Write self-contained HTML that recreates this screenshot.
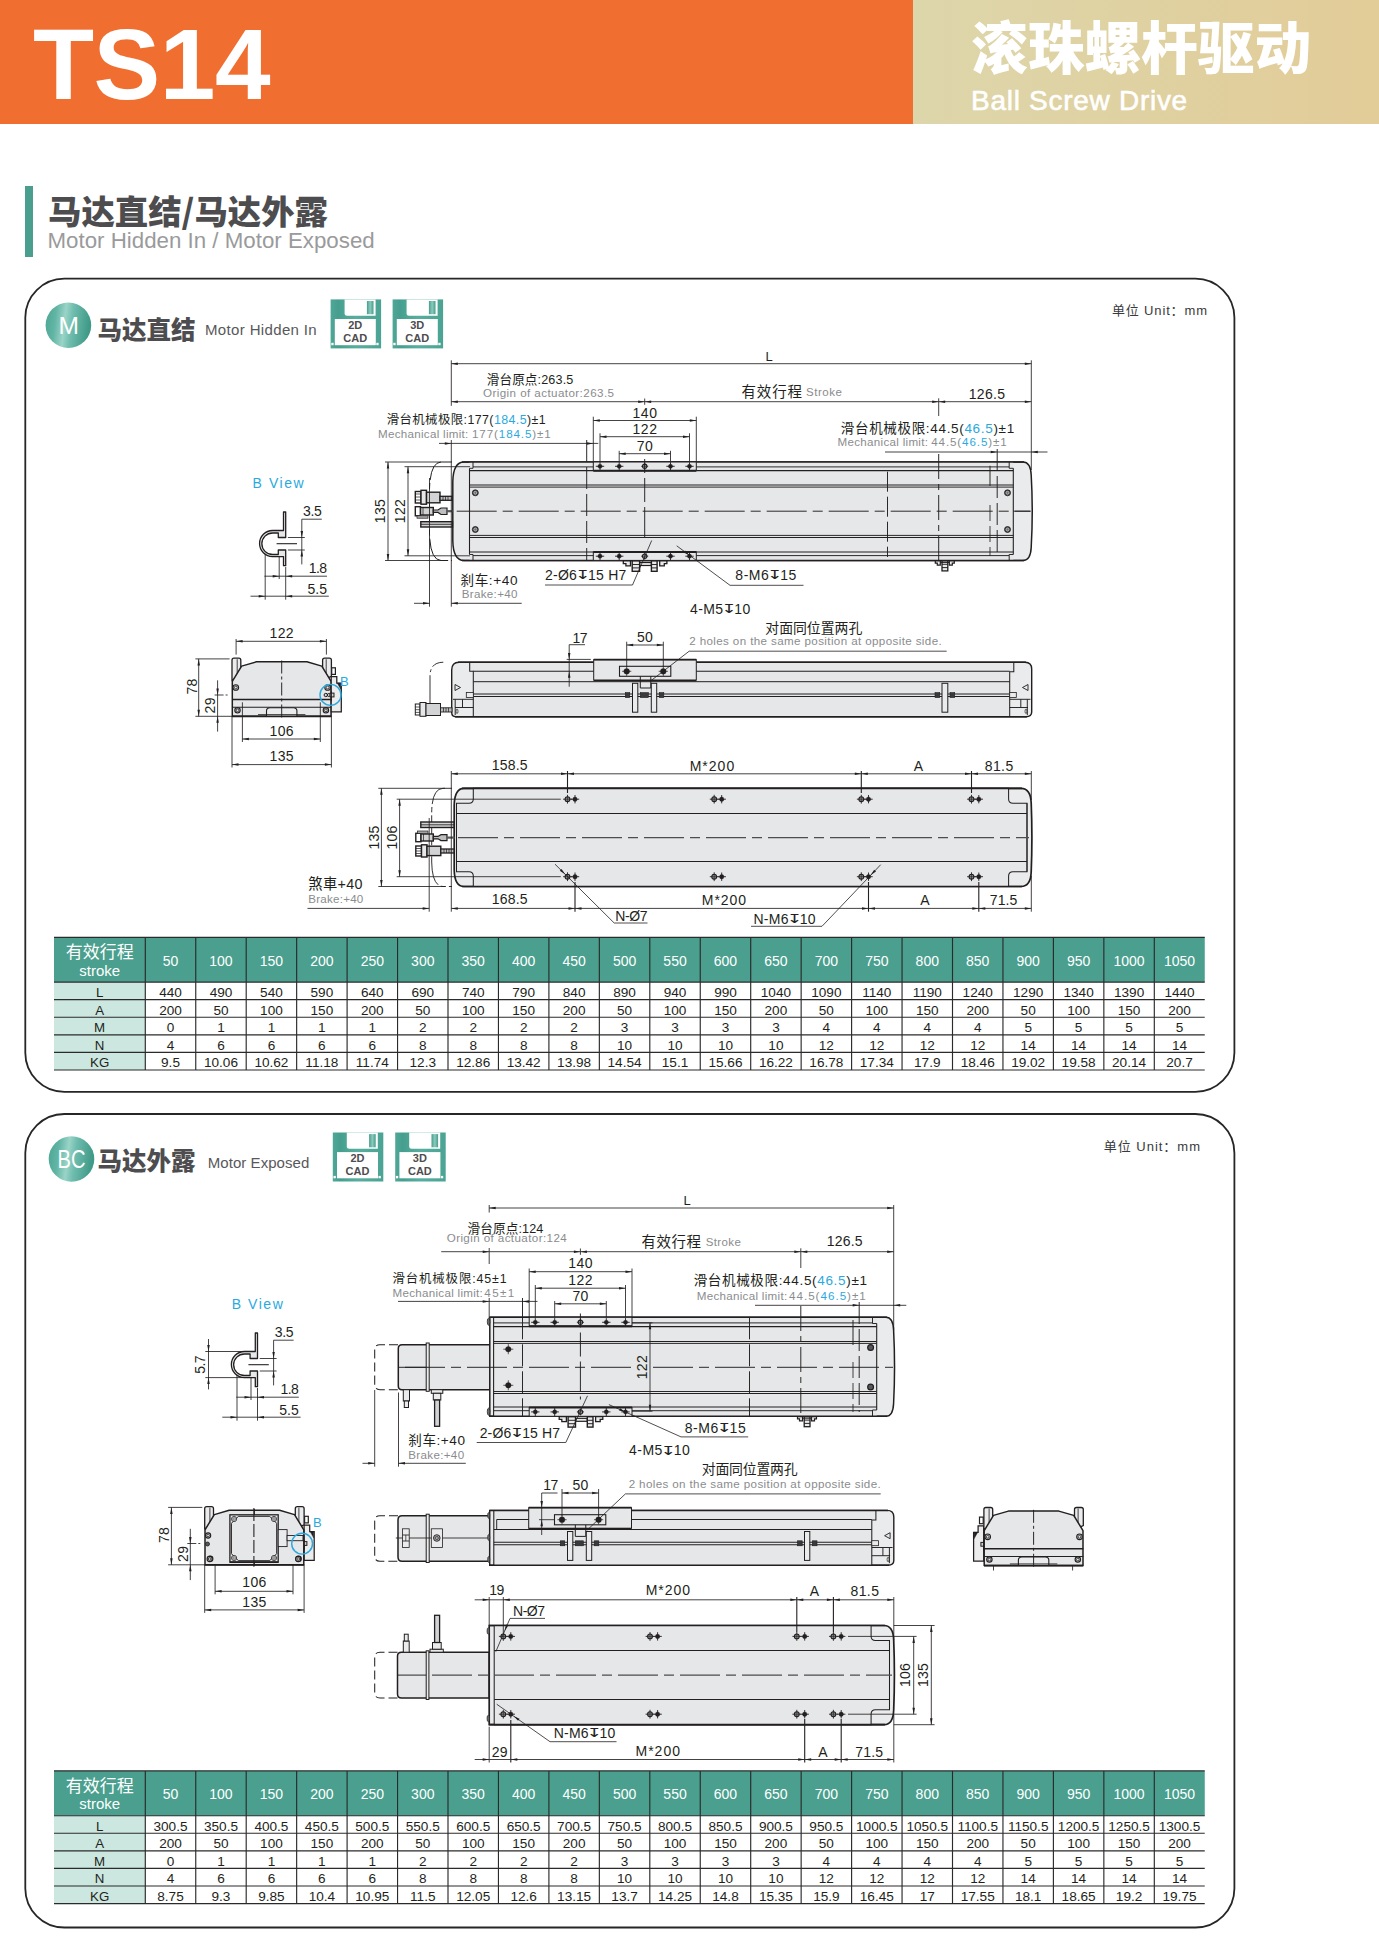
<!DOCTYPE html>
<html lang="zh"><head><meta charset="utf-8"><title>TS14</title><style>
html,body{margin:0;padding:0}
body{width:1379px;height:1948px;position:relative;background:#fff;overflow:hidden;font-family:"Liberation Sans","Noto Sans CJK SC",sans-serif;color:#231f20}
.abs{position:absolute}
#hdr{left:0;top:0;width:913px;height:124px;background:#f06e30}
#hdr2{left:913px;top:0;width:466px;height:124px;background:linear-gradient(90deg,#ddd6ab 0%,#e0d09f 60%,#e2cc98 100%)}
#ts{left:33px;top:7px;font-size:100px;font-weight:bold;color:#fff;line-height:115px;letter-spacing:-0.5px;white-space:nowrap}
#cn{left:971px;top:9px;font-size:56.7px;font-weight:900;color:#fff;line-height:70px;white-space:nowrap;font-family:"Noto Sans CJK SC",sans-serif}
#en{left:971px;top:84px;font-size:28px;letter-spacing:0.72px;-webkit-text-stroke:0.6px #fff;color:#fff;line-height:34px;white-space:nowrap}
#bar{left:25px;top:186px;width:8px;height:71px;background:#4a9e8e}
#t1{left:48px;top:187.5px;font-size:33.4px;font-weight:900;color:#4d4d4f;line-height:44px;white-space:nowrap;font-family:"Noto Sans CJK SC",sans-serif}
#t2{left:47.5px;top:229px;font-size:22.3px;color:#9a9a9c;line-height:24px;white-space:nowrap}
.panel{left:25px;width:1207px;border:1.9px solid #2a2a2a;border-radius:42px;box-sizing:content-box}
table.t{position:absolute;border-collapse:collapse;table-layout:fixed;font-size:14px;color:#231f20}
table.t td{border:1.3px solid #333;text-align:center;padding:0;height:16.3px;line-height:16px;overflow:visible;white-space:nowrap}
table.t tr.h td{background:#4a9f8e;color:#fff;height:44px;font-size:14px}
table.t td.f{background:#cbe7df;border-left:none}
table.t tr.h td.f{background:#4a9f8e;font-size:17px;line-height:19px;border-left:none}
table.t tr.h td{border-top:none}
table.t td:last-child{border-right:none}
</style></head><body>
<div class="abs" id="hdr"></div><div class="abs" id="hdr2"></div>
<div class="abs" id="ts">TS14</div>
<div class="abs" id="cn">滚珠螺杆驱动</div>
<div class="abs" id="en">Ball Screw Drive</div>
<div class="abs" id="bar"></div>
<div class="abs" id="t1">马达直结/马达外露</div>
<div class="abs" id="t2">Motor Hidden In / Motor Exposed</div>
<svg class="abs" style="left:0;top:0" width="1379" height="1948" viewBox="0 0 1379 1948">
<g font-family="Liberation Sans,Noto Sans CJK SC,sans-serif" stroke-linecap="butt">
<rect x="25.3" y="278.6" width="1209.1" height="813.2" rx="39" ry="39" fill="none" stroke="#262626" stroke-width="1.8"/>
<rect x="25.3" y="1114" width="1209.1" height="813.5" rx="39" ry="39" fill="none" stroke="#262626" stroke-width="1.8"/>
<defs>
<linearGradient id="gc" x1="0" y1="0" x2="1" y2="0.12"><stop offset="0" stop-color="#4ba593"/><stop offset="0.25" stop-color="#62b5a5"/><stop offset="0.46" stop-color="#9ad4c8"/><stop offset="0.62" stop-color="#6fbdae"/><stop offset="1" stop-color="#3f9a88"/></linearGradient>
<linearGradient id="gi" x1="0" y1="0" x2="1" y2="0"><stop offset="0" stop-color="#4fa897"/><stop offset="0.15" stop-color="#469f8e"/><stop offset="0.5" stop-color="#58ae9e"/><stop offset="1" stop-color="#4aa393"/></linearGradient>
<linearGradient id="gs" x1="0" y1="0" x2="1" y2="0"><stop offset="0" stop-color="#459d8c"/><stop offset="0.5" stop-color="#8ccabd"/><stop offset="1" stop-color="#459d8c"/></linearGradient>
</defs>
<circle cx="68.4" cy="325.2" r="22.8" fill="url(#gc)" stroke="none" stroke-width="0"/>
<text x="68.7" y="333.9" font-size="24.5" fill="#fff" text-anchor="middle">M</text>
<text x="97.5" y="338.6" font-size="24.5" font-weight="900" fill="#4d4d4f" font-family="Noto Sans CJK SC,sans-serif">马达直结</text>
<text x="205" y="335.2" font-size="15" fill="#58585a" textLength="111.7" lengthAdjust="spacing">Motor Hidden In</text>
<g transform="translate(330.6 299.4)">
<rect x="0" y="0" width="50.5" height="49" fill="url(#gi)"/>
<path d="M14,0 H45 V16.3 H16.5 Q14,16.3 14,13.8 Z" fill="#fff"/>
<rect x="36.3" y="1.6" width="6.6" height="13.2" fill="url(#gs)"/>
<rect x="4.2" y="19.6" width="41" height="26.2" fill="#fff"/>
<rect x="0.7" y="43.4" width="2.3" height="2.4" fill="#fff"/><rect x="45.7" y="43.4" width="2.3" height="2.4" fill="#fff"/>
<text x="24.7" y="29.8" font-size="11" font-weight="bold" fill="#4d4d4f" text-anchor="middle">2D</text>
<text x="24.7" y="42.3" font-size="11" font-weight="bold" fill="#4d4d4f" text-anchor="middle">CAD</text>
</g>
<g transform="translate(392.6 299.4)">
<rect x="0" y="0" width="50.5" height="49" fill="url(#gi)"/>
<path d="M14,0 H45 V16.3 H16.5 Q14,16.3 14,13.8 Z" fill="#fff"/>
<rect x="36.3" y="1.6" width="6.6" height="13.2" fill="url(#gs)"/>
<rect x="4.2" y="19.6" width="41" height="26.2" fill="#fff"/>
<rect x="0.7" y="43.4" width="2.3" height="2.4" fill="#fff"/><rect x="45.7" y="43.4" width="2.3" height="2.4" fill="#fff"/>
<text x="24.7" y="29.8" font-size="11" font-weight="bold" fill="#4d4d4f" text-anchor="middle">3D</text>
<text x="24.7" y="42.3" font-size="11" font-weight="bold" fill="#4d4d4f" text-anchor="middle">CAD</text>
</g>
<text x="1111.9" y="314.7" font-size="13" fill="#3a3a3c" textLength="95.1" lengthAdjust="spacing">单位 Unit：mm</text>
<g transform="translate(0 0)">
<path d="M285.7,512 V537.5 H278.3 V533 H272.6 A10.5,10.5 0 0 0 272.6,554.5 H278.3 V550 H285.7 V565.7 L283.5,565.7 V556.6 H272.6 A13.05,13.05 0 0 1 272.6,530.5 H283.5 V512 Z" fill="#e6e7e8" stroke="#231f20" stroke-width="1.3" stroke-linejoin="round"/>
<line x1="276.6" y1="543.7" x2="297" y2="543.7" stroke="#231f20" stroke-width="1.08"/>
<line x1="287.9" y1="537.5" x2="304.8" y2="537.5" stroke="#231f20" stroke-width="0.84"/>
<line x1="287.9" y1="550" x2="304.8" y2="550" stroke="#231f20" stroke-width="0.84"/>
<line x1="301.8" y1="519.2" x2="301.8" y2="564.4" stroke="#231f20" stroke-width="0.84"/>
<line x1="301.8" y1="519.2" x2="321.8" y2="519.2" stroke="#231f20" stroke-width="0.84"/>
<polygon points="301.8,537.5 300.55,531 303.05,531" fill="#231f20"/>
<polygon points="301.8,550 300.55,556.5 303.05,556.5" fill="#231f20"/>
<text x="302.9" y="515.7" font-size="14" fill="#231f20" textLength="18.9" lengthAdjust="spacing">3.5</text>
<line x1="279.2" y1="556" x2="279.2" y2="579" stroke="#231f20" stroke-width="0.84"/>
<line x1="285.7" y1="567" x2="285.7" y2="599.7" stroke="#231f20" stroke-width="0.84"/>
<line x1="264.4" y1="576.2" x2="327" y2="576.2" stroke="#231f20" stroke-width="0.84"/>
<polygon points="279.2,576.2 272.7,574.95 272.7,577.45" fill="#231f20"/>
<polygon points="285.7,576.2 292.2,574.95 292.2,577.45" fill="#231f20"/>
<text x="308.8" y="572.7" font-size="14" fill="#231f20" textLength="18.2" lengthAdjust="spacing">1.8</text>
<line x1="265.2" y1="554" x2="265.2" y2="599.7" stroke="#231f20" stroke-width="0.84"/>
<line x1="250.5" y1="596.2" x2="328.8" y2="596.2" stroke="#231f20" stroke-width="0.84"/>
<polygon points="265.2,596.2 258.7,594.95 258.7,597.45" fill="#231f20"/>
<polygon points="285.7,596.2 292.2,594.95 292.2,597.45" fill="#231f20"/>
<text x="307.5" y="593.6" font-size="14" fill="#231f20" textLength="19.5" lengthAdjust="spacing">5.5</text>
</g>
<text x="252.6" y="488" font-size="14" fill="#29a9e0" textLength="51" lengthAdjust="spacing">B View</text>
<path d="M232,680.3 V660.2 Q232,658.2 234,658.2 H238.8 Q240.8,658.2 240.8,660.2 V676.3 Z" fill="#eaebec" stroke="#231f20" stroke-width="1.3"/>
<line x1="237.2" y1="659.2" x2="237.2" y2="674.3" stroke="#231f20" stroke-width="0.84"/>
<path d="M322.6,680.3 V660.2 Q322.6,658.2 324.6,658.2 H329.4 Q331.4,658.2 331.4,660.2 V676.3 Z" fill="#eaebec" stroke="#231f20" stroke-width="1.3"/>
<line x1="326.2" y1="659.2" x2="326.2" y2="674.3" stroke="#231f20" stroke-width="0.84"/>
<path d="M232.3,716.3 V681.3 L241.6,666.1 L256.5,661.8 H306.9 L321.8,666.1 L331.1,681.3 V716.3 Z" fill="#e6e7e8" stroke="#231f20" stroke-width="1.5" stroke-linejoin="round"/>
<line x1="232" y1="699.4" x2="331.4" y2="699.4" stroke="#231f20" stroke-width="1.5"/>
<line x1="232" y1="707.2" x2="331.4" y2="707.2" stroke="#231f20" stroke-width="1.1"/>
<path d="M266.5,716.3 V710.8 Q266.5,707.7 270,707.7 H293.4 Q296.9,707.7 296.9,710.8 V716.3" fill="#eaebec" stroke="#231f20" stroke-width="1.1"/>
<line x1="258" y1="714.6" x2="305.4" y2="714.6" stroke="#231f20" stroke-width="0.84"/>
<line x1="232" y1="716.3" x2="331.4" y2="716.3" stroke="#231f20" stroke-width="1.7"/>
<circle cx="235.8" cy="687.5" r="2.8" fill="#d1d3d4" stroke="#231f20" stroke-width="1.1"/>
<circle cx="235.8" cy="687.5" r="1.4" fill="#e6e7e8" stroke="#231f20" stroke-width="0.8"/>
<circle cx="327.6" cy="687.5" r="2.8" fill="#d1d3d4" stroke="#231f20" stroke-width="1.1"/>
<circle cx="327.6" cy="687.5" r="1.4" fill="#e6e7e8" stroke="#231f20" stroke-width="0.8"/>
<circle cx="237.5" cy="710.3" r="2.7" fill="#d1d3d4" stroke="#231f20" stroke-width="1.1"/>
<circle cx="237.5" cy="710.3" r="1.35" fill="#e6e7e8" stroke="#231f20" stroke-width="0.8"/>
<circle cx="325.9" cy="710.3" r="2.7" fill="#d1d3d4" stroke="#231f20" stroke-width="1.1"/>
<circle cx="325.9" cy="710.3" r="1.35" fill="#e6e7e8" stroke="#231f20" stroke-width="0.8"/>
<line x1="281.7" y1="660.5" x2="281.7" y2="718" stroke="#231f20" stroke-width="0.96" stroke-dasharray="13 3 3 3"/>
<line x1="236.1" y1="639" x2="236.1" y2="654.6" stroke="#231f20" stroke-width="0.84"/>
<line x1="326.4" y1="639" x2="326.4" y2="654.6" stroke="#231f20" stroke-width="0.84"/>
<line x1="236.1" y1="641.3" x2="326.4" y2="641.3" stroke="#231f20" stroke-width="0.84"/>
<polygon points="236.1,641.3 242.6,640.05 242.6,642.55" fill="#231f20"/>
<polygon points="326.4,641.3 319.9,640.05 319.9,642.55" fill="#231f20"/>
<text x="281.6" y="638" font-size="14" fill="#231f20" text-anchor="middle" textLength="24" lengthAdjust="spacing">122</text>
<line x1="195.4" y1="658.9" x2="229.6" y2="658.9" stroke="#231f20" stroke-width="0.84"/>
<line x1="195.4" y1="716.3" x2="232" y2="716.3" stroke="#231f20" stroke-width="0.84"/>
<line x1="198.7" y1="658.9" x2="198.7" y2="716.3" stroke="#231f20" stroke-width="0.84"/>
<polygon points="198.7,658.9 197.45,665.4 199.95,665.4" fill="#231f20"/>
<polygon points="198.7,716.3 197.45,709.8 199.95,709.8" fill="#231f20"/>
<text x="196.8" y="686.6" font-size="14" fill="#231f20" text-anchor="middle" transform="rotate(-90 196.8 686.6)" textLength="16" lengthAdjust="spacing">78</text>
<line x1="217.6" y1="680.3" x2="217.6" y2="731.6" stroke="#231f20" stroke-width="0.84"/>
<polygon points="217.6,695 216.35,688.5 218.85,688.5" fill="#231f20"/>
<polygon points="217.6,716.3 216.35,722.8 218.85,722.8" fill="#231f20"/>
<line x1="214.6" y1="695" x2="229.6" y2="695" stroke="#231f20" stroke-width="0.84" stroke-dasharray="9 2 2 2"/>
<text x="215" y="705.5" font-size="14" fill="#231f20" text-anchor="middle" transform="rotate(-90 215 705.5)" textLength="16" lengthAdjust="spacing">29</text>
<line x1="242.4" y1="702.3" x2="242.4" y2="742" stroke="#231f20" stroke-width="0.84"/>
<line x1="320.3" y1="702.3" x2="320.3" y2="742" stroke="#231f20" stroke-width="0.84"/>
<line x1="242.4" y1="739" x2="320.3" y2="739" stroke="#231f20" stroke-width="0.84"/>
<polygon points="242.4,739 248.9,737.75 248.9,740.25" fill="#231f20"/>
<polygon points="320.3,739 313.8,737.75 313.8,740.25" fill="#231f20"/>
<text x="281.6" y="736.2" font-size="14" fill="#231f20" text-anchor="middle" textLength="24" lengthAdjust="spacing">106</text>
<line x1="232" y1="716.3" x2="232" y2="767.5" stroke="#231f20" stroke-width="0.84"/>
<line x1="331.4" y1="716.3" x2="331.4" y2="767.5" stroke="#231f20" stroke-width="0.84"/>
<line x1="232" y1="764.6" x2="331.4" y2="764.6" stroke="#231f20" stroke-width="0.84"/>
<polygon points="232,764.6 238.5,763.35 238.5,765.85" fill="#231f20"/>
<polygon points="331.4,764.6 324.9,763.35 324.9,765.85" fill="#231f20"/>
<text x="281.6" y="761.2" font-size="14" fill="#231f20" text-anchor="middle" textLength="24" lengthAdjust="spacing">135</text>
<path d="M331.2,676.5 H336.8 V683.1 H341.3 V711.8 H331.2 Z" fill="#ececed" stroke="#231f20" stroke-width="1.25" stroke-linejoin="miter"/>
<rect x="331.7" y="667.8" width="3.7" height="6.6" fill="#fff" stroke="#231f20" stroke-width="1.2"/>
<path d="M337.2,683.1 L340.8,683.1 L340.8,689.5 Z" fill="#231f20" stroke="#231f20" stroke-width="0.34"/>
<circle cx="325.8" cy="695" r="1.7" fill="#d1d3d4" stroke="#231f20" stroke-width="1"/>
<circle cx="328.8" cy="695" r="1.5" fill="#d1d3d4" stroke="#231f20" stroke-width="1"/>
<rect x="330.2" y="693.1" width="3.8" height="3.8" fill="#d1d3d4" stroke="#231f20" stroke-width="1"/>
<line x1="331.4" y1="691.3" x2="331.4" y2="701.3" stroke="#231f20" stroke-width="1"/>
<circle cx="330.5" cy="694.9" r="10.5" fill="none" stroke="#29a9e0" stroke-width="1.4"/>
<text x="340.1" y="686" font-size="13" fill="#29a9e0">B</text>
<path d="M452,462 H441 Q430,462.5 429.5,490 V533 Q430,560 441,560.5 H452" fill="none" stroke="#231f20" stroke-width="1" stroke-dasharray="34 3 6 3"/>
<path d="M464,462 H1023 Q1030.6,462 1031.2,475 Q1033.3,511 1031.2,547.5 Q1030.6,560.5 1023,560.5 H464 Q453.2,560.5 452.8,541 V481.5 Q453.2,462 464,462 Z" fill="#eaebec" stroke="#231f20" stroke-width="1.5"/>
<rect x="469.5" y="462" width="543.8" height="98.5" fill="#e6e7e8" stroke="#231f20" stroke-width="0"/>
<line x1="462" y1="462" x2="1024" y2="462" stroke="#231f20" stroke-width="1.7"/>
<line x1="462" y1="560.5" x2="1024" y2="560.5" stroke="#231f20" stroke-width="1.7"/>
<line x1="473" y1="466.9" x2="1009" y2="466.9" stroke="#231f20" stroke-width="0.96"/>
<line x1="469.5" y1="470.6" x2="1013.3" y2="470.6" stroke="#231f20" stroke-width="1.08"/>
<line x1="469.5" y1="552" x2="1013.3" y2="552" stroke="#231f20" stroke-width="1.08"/>
<line x1="473" y1="555.6" x2="1009" y2="555.6" stroke="#231f20" stroke-width="0.96"/>
<line x1="469.5" y1="485" x2="1013.3" y2="485" stroke="#231f20" stroke-width="1"/>
<line x1="469.5" y1="487.1" x2="1013.3" y2="487.1" stroke="#231f20" stroke-width="0.96"/>
<line x1="469.5" y1="535.4" x2="1013.3" y2="535.4" stroke="#231f20" stroke-width="0.96"/>
<line x1="469.5" y1="537.5" x2="1013.3" y2="537.5" stroke="#231f20" stroke-width="1"/>
<line x1="469.5" y1="468.3" x2="469.5" y2="554.5" stroke="#231f20" stroke-width="1.08"/>
<line x1="473" y1="462" x2="473" y2="468.3" stroke="#231f20" stroke-width="0.96"/>
<line x1="473" y1="554.5" x2="473" y2="560.5" stroke="#231f20" stroke-width="0.96"/>
<path d="M469.5,468.3 H473" fill="none" stroke="#231f20" stroke-width="0.92"/>
<path d="M469.5,554.5 H473" fill="none" stroke="#231f20" stroke-width="0.92"/>
<line x1="1013.3" y1="468.3" x2="1013.3" y2="554.5" stroke="#231f20" stroke-width="1.08"/>
<line x1="1009.2" y1="462" x2="1009.2" y2="468.3" stroke="#231f20" stroke-width="0.96"/>
<line x1="1009.2" y1="554.5" x2="1009.2" y2="560.5" stroke="#231f20" stroke-width="0.96"/>
<line x1="1009.2" y1="468.3" x2="1013.3" y2="468.3" stroke="#231f20" stroke-width="0.96"/>
<line x1="1009.2" y1="554.5" x2="1013.3" y2="554.5" stroke="#231f20" stroke-width="0.96"/>
<line x1="456.7" y1="511.2" x2="1030" y2="511.2" stroke="#231f20" stroke-width="0.96" stroke-dasharray="40 6 10 6"/>
<line x1="1013.3" y1="511.2" x2="1031" y2="511.2" stroke="#231f20" stroke-width="0.84"/>
<rect x="593.3" y="462" width="103" height="8.6" fill="#e6e7e8" stroke="#231f20" stroke-width="1"/>
<line x1="593.3" y1="470.8" x2="696.3" y2="470.8" stroke="#231f20" stroke-width="2"/>
<rect x="593.3" y="552" width="103" height="8.4" fill="#e6e7e8" stroke="#231f20" stroke-width="1"/>
<line x1="593.3" y1="552" x2="696.3" y2="552" stroke="#231f20" stroke-width="2"/>
<line x1="595.8" y1="466.3" x2="604.2" y2="466.3" stroke="#231f20" stroke-width="0.9"/>
<line x1="600" y1="462.1" x2="600" y2="470.5" stroke="#231f20" stroke-width="0.9"/>
<circle cx="600" cy="466.3" r="2.1" fill="#231f20" stroke="#231f20" stroke-width="0.4"/>
<line x1="595.8" y1="556.2" x2="604.2" y2="556.2" stroke="#231f20" stroke-width="0.9"/>
<line x1="600" y1="552" x2="600" y2="560.4" stroke="#231f20" stroke-width="0.9"/>
<circle cx="600" cy="556.2" r="2.1" fill="#231f20" stroke="#231f20" stroke-width="0.4"/>
<line x1="615" y1="466.3" x2="623.4" y2="466.3" stroke="#231f20" stroke-width="0.9"/>
<line x1="619.2" y1="462.1" x2="619.2" y2="470.5" stroke="#231f20" stroke-width="0.9"/>
<circle cx="619.2" cy="466.3" r="2.1" fill="#231f20" stroke="#231f20" stroke-width="0.4"/>
<line x1="615" y1="556.2" x2="623.4" y2="556.2" stroke="#231f20" stroke-width="0.9"/>
<line x1="619.2" y1="552" x2="619.2" y2="560.4" stroke="#231f20" stroke-width="0.9"/>
<circle cx="619.2" cy="556.2" r="2.1" fill="#231f20" stroke="#231f20" stroke-width="0.4"/>
<line x1="666.3" y1="466.3" x2="674.7" y2="466.3" stroke="#231f20" stroke-width="0.9"/>
<line x1="670.5" y1="462.1" x2="670.5" y2="470.5" stroke="#231f20" stroke-width="0.9"/>
<circle cx="670.5" cy="466.3" r="2.1" fill="#231f20" stroke="#231f20" stroke-width="0.4"/>
<line x1="666.3" y1="556.2" x2="674.7" y2="556.2" stroke="#231f20" stroke-width="0.9"/>
<line x1="670.5" y1="552" x2="670.5" y2="560.4" stroke="#231f20" stroke-width="0.9"/>
<circle cx="670.5" cy="556.2" r="2.1" fill="#231f20" stroke="#231f20" stroke-width="0.4"/>
<line x1="685.3" y1="466.3" x2="693.7" y2="466.3" stroke="#231f20" stroke-width="0.9"/>
<line x1="689.5" y1="462.1" x2="689.5" y2="470.5" stroke="#231f20" stroke-width="0.9"/>
<circle cx="689.5" cy="466.3" r="2.1" fill="#231f20" stroke="#231f20" stroke-width="0.4"/>
<line x1="685.3" y1="556.2" x2="693.7" y2="556.2" stroke="#231f20" stroke-width="0.9"/>
<line x1="689.5" y1="552" x2="689.5" y2="560.4" stroke="#231f20" stroke-width="0.9"/>
<circle cx="689.5" cy="556.2" r="2.1" fill="#231f20" stroke="#231f20" stroke-width="0.4"/>
<line x1="641.2" y1="466.3" x2="648.2" y2="466.3" stroke="#231f20" stroke-width="0.9"/>
<line x1="644.7" y1="462.8" x2="644.7" y2="469.8" stroke="#231f20" stroke-width="0.9"/>
<circle cx="644.7" cy="466.3" r="2.2" fill="#bbbdbf" stroke="#231f20" stroke-width="1.1"/>
<line x1="642.5" y1="466.3" x2="646.9" y2="466.3" stroke="#231f20" stroke-width="0.6"/>
<line x1="644.7" y1="464.1" x2="644.7" y2="468.5" stroke="#231f20" stroke-width="0.6"/>
<line x1="641.2" y1="556.2" x2="648.2" y2="556.2" stroke="#231f20" stroke-width="0.9"/>
<line x1="644.7" y1="552.7" x2="644.7" y2="559.7" stroke="#231f20" stroke-width="0.9"/>
<circle cx="644.7" cy="556.2" r="2.2" fill="#bbbdbf" stroke="#231f20" stroke-width="1.1"/>
<line x1="642.5" y1="556.2" x2="646.9" y2="556.2" stroke="#231f20" stroke-width="0.6"/>
<line x1="644.7" y1="554" x2="644.7" y2="558.4" stroke="#231f20" stroke-width="0.6"/>
<circle cx="475.3" cy="492.8" r="3" fill="#404042" stroke="#231f20" stroke-width="0.8"/>
<circle cx="475.3" cy="492.8" r="1.5" fill="#6d6e70" stroke="#d1d3d4" stroke-width="0.7"/>
<circle cx="475.3" cy="529.5" r="3" fill="#404042" stroke="#231f20" stroke-width="0.8"/>
<circle cx="475.3" cy="529.5" r="1.5" fill="#6d6e70" stroke="#d1d3d4" stroke-width="0.7"/>
<circle cx="1007.5" cy="492.8" r="3" fill="#404042" stroke="#231f20" stroke-width="0.8"/>
<circle cx="1007.5" cy="492.8" r="1.5" fill="#6d6e70" stroke="#d1d3d4" stroke-width="0.7"/>
<circle cx="1007.5" cy="529.5" r="3" fill="#404042" stroke="#231f20" stroke-width="0.8"/>
<circle cx="1007.5" cy="529.5" r="1.5" fill="#6d6e70" stroke="#d1d3d4" stroke-width="0.7"/>
<path d="M623.3,560.9 h7.2 v5 h-4.6 v-2.3 h-2.6 Z" fill="#eaebec" stroke="#231f20" stroke-width="1.3"/>
<path d="M666.9,560.9 h-7.2 v5 h4.6 v-2.3 h2.6 Z" fill="#eaebec" stroke="#231f20" stroke-width="1.3"/>
<rect x="639.6" y="562.5" width="11.8" height="3" fill="#eaebec" stroke="#231f20" stroke-width="1.2"/>
<rect x="632.2" y="560.9" width="7.4" height="10.4" fill="#eaebec" stroke="#231f20" stroke-width="1.4"/>
<line x1="632.2" y1="564.5" x2="639.6" y2="564.5" stroke="#231f20" stroke-width="0.96"/>
<line x1="632.2" y1="567.9" x2="639.6" y2="567.9" stroke="#231f20" stroke-width="0.96"/>
<rect x="651.4" y="560.9" width="5.7" height="10.4" fill="#eaebec" stroke="#231f20" stroke-width="1.4"/>
<line x1="651.4" y1="564.5" x2="657.1" y2="564.5" stroke="#231f20" stroke-width="0.96"/>
<line x1="651.4" y1="567.9" x2="657.1" y2="567.9" stroke="#231f20" stroke-width="0.96"/>
<path d="M935.3,560.9 h5 v4.2 h-3 v-2 h-2 Z" fill="#eaebec" stroke="#231f20" stroke-width="1.2"/>
<path d="M954.3,560.9 h-5 v4.2 h3 v-2 h2 Z" fill="#eaebec" stroke="#231f20" stroke-width="1.2"/>
<rect x="942" y="560.9" width="5.8" height="10" fill="#eaebec" stroke="#231f20" stroke-width="1.3"/>
<line x1="942" y1="564.3" x2="947.8" y2="564.3" stroke="#231f20" stroke-width="0.96"/>
<line x1="942" y1="567.6" x2="947.8" y2="567.6" stroke="#231f20" stroke-width="0.96"/>
<line x1="940.3" y1="562.4" x2="949.3" y2="562.4" stroke="#231f20" stroke-width="1"/>
<line x1="586.7" y1="440" x2="586.7" y2="560.5" stroke="#231f20" stroke-width="0.96" stroke-dasharray="22 5"/>
<line x1="644.7" y1="459" x2="644.7" y2="540" stroke="#231f20" stroke-width="0.96" stroke-dasharray="14 5 24 5 30 5 3 5"/>
<line x1="887.5" y1="471.7" x2="887.5" y2="557" stroke="#231f20" stroke-width="0.96" stroke-dasharray="20 5"/>
<line x1="938.7" y1="398.3" x2="938.7" y2="416" stroke="#231f20" stroke-width="0.84"/>
<line x1="938.7" y1="454" x2="938.7" y2="560.5" stroke="#231f20" stroke-width="0.96" stroke-dasharray="25 5 6 5"/>
<line x1="990" y1="465.8" x2="990" y2="486" stroke="#231f20" stroke-width="0.96"/>
<line x1="990" y1="505" x2="990" y2="556" stroke="#231f20" stroke-width="0.84" stroke-dasharray="16 5"/>
<line x1="997.2" y1="449" x2="997.2" y2="556" stroke="#231f20" stroke-width="0.96" stroke-dasharray="22 5"/>
<rect x="415.3" y="491.5" width="5.7" height="11.5" fill="#fff" stroke="#231f20" stroke-width="1.4"/>
<line x1="415.3" y1="494" x2="421" y2="494" stroke="#231f20" stroke-width="0.72"/>
<line x1="415.3" y1="497" x2="421" y2="497" stroke="#231f20" stroke-width="0.72"/>
<line x1="415.3" y1="500" x2="421" y2="500" stroke="#231f20" stroke-width="0.72"/>
<rect x="421" y="490.3" width="5.5" height="13.9" fill="#e6e7e8" stroke="#231f20" stroke-width="1.4"/>
<rect x="426.5" y="492.2" width="13.5" height="10.6" fill="#d1d3d4" stroke="#231f20" stroke-width="1.4"/>
<rect x="440" y="496.3" width="12" height="4" fill="#bcbec0" stroke="#231f20" stroke-width="1.3"/>
<line x1="443" y1="496.3" x2="443" y2="500.3" stroke="#231f20" stroke-width="0.72"/>
<line x1="445.5" y1="496.3" x2="445.5" y2="500.3" stroke="#231f20" stroke-width="0.72"/>
<line x1="448" y1="496.3" x2="448" y2="500.3" stroke="#231f20" stroke-width="0.72"/>
<rect x="415.3" y="506.7" width="5.2" height="9.1" fill="#fff" stroke="#231f20" stroke-width="1.4"/>
<rect x="420.5" y="507.5" width="12.8" height="7.5" fill="#d1d3d4" stroke="#231f20" stroke-width="1.4"/>
<line x1="423" y1="507.5" x2="423" y2="515" stroke="#231f20" stroke-width="0.72"/>
<rect x="417" y="515.8" width="11" height="2.4" fill="#a7a9ac" stroke="#231f20" stroke-width="0.7"/>
<path d="M433.3,510 H438 L441,508 H447 V514.5 H441 L438,512.4 H433.3 Z" fill="#bcbec0" stroke="#231f20" stroke-width="1.2"/>
<line x1="447" y1="511.2" x2="452.5" y2="511.2" stroke="#58595b" stroke-width="2.2"/>
<rect x="420.8" y="521.7" width="31.7" height="5.3" fill="#d1d3d4" stroke="#231f20" stroke-width="1.4"/>
<line x1="421" y1="524.3" x2="452" y2="524.3" stroke="#231f20" stroke-width="0.84"/>
<line x1="451.3" y1="360.3" x2="451.3" y2="405.8" stroke="#231f20" stroke-width="0.84"/>
<line x1="451.3" y1="440" x2="451.3" y2="606.7" stroke="#231f20" stroke-width="0.84"/>
<line x1="1031.3" y1="360.3" x2="1031.3" y2="470" stroke="#231f20" stroke-width="0.84"/>
<line x1="451.3" y1="363.7" x2="1031.3" y2="363.7" stroke="#231f20" stroke-width="0.84"/>
<polygon points="451.3,363.7 457.8,362.45 457.8,364.95" fill="#231f20"/>
<polygon points="1031.3,363.7 1024.8,362.45 1024.8,364.95" fill="#231f20"/>
<text x="769" y="361" font-size="13" fill="#231f20" text-anchor="middle">L</text>
<line x1="451.3" y1="401.7" x2="644.7" y2="401.7" stroke="#231f20" stroke-width="0.84"/>
<polygon points="451.3,401.7 457.8,400.45 457.8,402.95" fill="#231f20"/>
<polygon points="644.7,401.7 638.2,400.45 638.2,402.95" fill="#231f20"/>
<line x1="644.7" y1="398.5" x2="644.7" y2="404.8" stroke="#231f20" stroke-width="0.84"/>
<line x1="644.7" y1="401.7" x2="938.7" y2="401.7" stroke="#231f20" stroke-width="0.84"/>
<polygon points="644.7,401.7 651.2,400.45 651.2,402.95" fill="#231f20"/>
<polygon points="938.7,401.7 932.2,400.45 932.2,402.95" fill="#231f20"/>
<line x1="938.7" y1="401.7" x2="1031.3" y2="401.7" stroke="#231f20" stroke-width="0.84"/>
<polygon points="938.7,401.7 945.2,400.45 945.2,402.95" fill="#231f20"/>
<polygon points="1031.3,401.7 1024.8,400.45 1024.8,402.95" fill="#231f20"/>
<text x="486.7" y="384.2" font-size="12.6" fill="#231f20" textLength="86.6" lengthAdjust="spacing">滑台原点:263.5</text>
<text x="483" y="396.6" font-size="11.6" fill="#8a8c8e" textLength="131" lengthAdjust="spacing">Origin of actuator:263.5</text>
<text x="741.5" y="396.5" font-size="14.5" fill="#231f20" textLength="60.5" lengthAdjust="spacing">有效行程</text>
<text x="806" y="396.3" font-size="11.5" fill="#8a8c8e" textLength="36" lengthAdjust="spacing">Stroke</text>
<text x="968.7" y="398.8" font-size="14" fill="#231f20" textLength="36.3" lengthAdjust="spacing">126.5</text>
<text x="386.7" y="423.8" font-size="12.4" fill="#231f20" textLength="159" lengthAdjust="spacing">滑台机械极限:177(<tspan fill="#29a9e0">184.5</tspan>)±1</text>
<text x="378" y="437.6" font-size="11.6" fill="#8a8c8e" textLength="90.3" lengthAdjust="spacing">Mechanical limit:</text>
<text x="472" y="437.6" font-size="11.6" fill="#8a8c8e" textLength="78.8" lengthAdjust="spacing">177(<tspan fill="#29a9e0">184.5</tspan>)±1</text>
<line x1="439" y1="443.4" x2="598.3" y2="443.4" stroke="#231f20" stroke-width="0.84"/>
<polygon points="451.3,443.4 444.8,442.15 444.8,444.65" fill="#231f20"/>
<polygon points="593.3,443.4 586.8,442.15 586.8,444.65" fill="#231f20"/>
<line x1="593.3" y1="416.7" x2="593.3" y2="461" stroke="#231f20" stroke-width="0.84"/>
<line x1="696.3" y1="416.7" x2="696.3" y2="461" stroke="#231f20" stroke-width="0.84"/>
<line x1="593.3" y1="420.5" x2="696.3" y2="420.5" stroke="#231f20" stroke-width="0.84"/>
<polygon points="593.3,420.5 599.8,419.25 599.8,421.75" fill="#231f20"/>
<polygon points="696.3,420.5 689.8,419.25 689.8,421.75" fill="#231f20"/>
<text x="644.7" y="417.5" font-size="14" fill="#231f20" text-anchor="middle" textLength="24.5" lengthAdjust="spacing">140</text>
<line x1="600" y1="433.3" x2="600" y2="461" stroke="#231f20" stroke-width="0.84"/>
<line x1="689.5" y1="433.3" x2="689.5" y2="461" stroke="#231f20" stroke-width="0.84"/>
<line x1="600" y1="436.7" x2="689.5" y2="436.7" stroke="#231f20" stroke-width="0.84"/>
<polygon points="600,436.7 606.5,435.45 606.5,437.95" fill="#231f20"/>
<polygon points="689.5,436.7 683,435.45 683,437.95" fill="#231f20"/>
<text x="644.7" y="434" font-size="14" fill="#231f20" text-anchor="middle" textLength="24.5" lengthAdjust="spacing">122</text>
<line x1="619.2" y1="450.8" x2="619.2" y2="461" stroke="#231f20" stroke-width="0.84"/>
<line x1="670.5" y1="450.8" x2="670.5" y2="461" stroke="#231f20" stroke-width="0.84"/>
<line x1="619.2" y1="453.7" x2="670.5" y2="453.7" stroke="#231f20" stroke-width="0.84"/>
<polygon points="619.2,453.7 625.7,452.45 625.7,454.95" fill="#231f20"/>
<polygon points="670.5,453.7 664,452.45 664,454.95" fill="#231f20"/>
<text x="644.7" y="451.2" font-size="14" fill="#231f20" text-anchor="middle" textLength="16" lengthAdjust="spacing">70</text>
<text x="840.8" y="432.5" font-size="13.5" fill="#231f20" textLength="173.4" lengthAdjust="spacing">滑台机械极限:44.5(<tspan fill="#29a9e0">46.5</tspan>)±1</text>
<text x="837.5" y="445.8" font-size="11.6" fill="#8a8c8e" textLength="90.5" lengthAdjust="spacing">Mechanical limit:</text>
<text x="931.2" y="445.8" font-size="11.6" fill="#8a8c8e" textLength="75.5" lengthAdjust="spacing">44.5(<tspan fill="#29a9e0">46.5</tspan>)±1</text>
<line x1="885" y1="452" x2="1047.5" y2="452" stroke="#231f20" stroke-width="0.84"/>
<polygon points="997.2,452 990.7,450.75 990.7,453.25" fill="#231f20"/>
<polygon points="1031.3,452 1037.8,450.75 1037.8,453.25" fill="#231f20"/>
<line x1="385" y1="462" x2="441" y2="462" stroke="#231f20" stroke-width="0.84"/>
<line x1="385" y1="560.5" x2="441" y2="560.5" stroke="#231f20" stroke-width="0.84"/>
<line x1="388" y1="462" x2="388" y2="560.5" stroke="#231f20" stroke-width="0.84"/>
<polygon points="388,462 386.75,468.5 389.25,468.5" fill="#231f20"/>
<polygon points="388,560.5 386.75,554 389.25,554" fill="#231f20"/>
<text x="385.3" y="511.2" font-size="14" fill="#231f20" text-anchor="middle" transform="rotate(-90 385.3 511.2)" textLength="24" lengthAdjust="spacing">135</text>
<line x1="404.5" y1="466.7" x2="470" y2="466.7" stroke="#231f20" stroke-width="0.84"/>
<line x1="404.5" y1="555.8" x2="470" y2="555.8" stroke="#231f20" stroke-width="0.84"/>
<line x1="408" y1="466.7" x2="408" y2="555.8" stroke="#231f20" stroke-width="0.84"/>
<polygon points="408,466.7 406.75,473.2 409.25,473.2" fill="#231f20"/>
<polygon points="408,555.8 406.75,549.3 409.25,549.3" fill="#231f20"/>
<text x="405.3" y="511.2" font-size="14" fill="#231f20" text-anchor="middle" transform="rotate(-90 405.3 511.2)" textLength="24" lengthAdjust="spacing">122</text>
<line x1="429.5" y1="478" x2="429.5" y2="606.7" stroke="#231f20" stroke-width="0.84"/>
<line x1="414" y1="603.3" x2="429.5" y2="603.3" stroke="#231f20" stroke-width="0.84"/>
<polygon points="429.5,603.3 423,602.05 423,604.55" fill="#231f20"/>
<line x1="451.3" y1="603.3" x2="521.7" y2="603.3" stroke="#231f20" stroke-width="0.84"/>
<polygon points="451.3,603.3 457.8,602.05 457.8,604.55" fill="#231f20"/>
<text x="460.5" y="585.3" font-size="13.6" fill="#231f20" textLength="57" lengthAdjust="spacing">刹车:+40</text>
<text x="461.7" y="598.3" font-size="11.6" fill="#8a8c8e" textLength="55.8" lengthAdjust="spacing">Brake:+40</text>
<text x="545" y="580" font-size="14" fill="#231f20" letter-spacing="0.25">2-Ø6</text>
<text transform="translate(582.41 579.1) scale(1.58 1.04)" font-family="DejaVu Sans,sans-serif" font-size="11.6" text-anchor="middle" fill="#231f20" stroke="#231f20" stroke-width="0.08">↧</text>
<text x="587.93" y="580" font-size="14" fill="#231f20" letter-spacing="0.25">15 H7</text>
<path d="M545,585 H632.5 L651.7,540.5" fill="none" stroke="#231f20" stroke-width="0.8"/>
<text x="735.3" y="580" font-size="14" fill="#231f20" letter-spacing="0.55">8-M6</text>
<text transform="translate(774.51 579.1) scale(1.58 1.04)" font-family="DejaVu Sans,sans-serif" font-size="11.6" text-anchor="middle" fill="#231f20" stroke="#231f20" stroke-width="0.08">↧</text>
<text x="780.18" y="580" font-size="14" fill="#231f20" letter-spacing="0.55">15</text>
<path d="M676.7,545.8 L730,585.3 H803.5" fill="none" stroke="#231f20" stroke-width="0.8"/>
<polygon points="689.5,555.3 683.53,552.43 685.02,550.43" fill="#231f20"/>
<text x="690" y="614.2" font-size="14" fill="#231f20" letter-spacing="0.41">4-M5</text>
<text transform="translate(728.72 613.3) scale(1.58 1.04)" font-family="DejaVu Sans,sans-serif" font-size="11.6" text-anchor="middle" fill="#231f20" stroke="#231f20" stroke-width="0.08">↧</text>
<text x="734.32" y="614.2" font-size="14" fill="#231f20" letter-spacing="0.41">10</text>
<text x="765.3" y="633.3" font-size="13.9" fill="#231f20" textLength="97" lengthAdjust="spacing">对面同位置两孔</text>
<text x="689.2" y="645.4" font-size="11.6" fill="#8a8c8e" textLength="252.5" lengthAdjust="spacing">2 holes on the same position at opposite side.</text>
<path d="M443.3,662.2 Q430,662.5 430,676 V703" fill="none" stroke="#231f20" stroke-width="0.92" stroke-dasharray="12 3 3 3 40 3"/>
<path d="M459,662.2 H1025 Q1031.7,662.2 1031.7,669 V712 Q1031.7,716.7 1026,716.7 H456 Q451.7,716.7 451.7,712.5 V670 Q451.7,662.2 459,662.2 Z" fill="#eaebec" stroke="#231f20" stroke-width="1.4"/>
<rect x="473.3" y="671.3" width="536.4" height="45.4" fill="#e6e7e8" stroke="#231f20" stroke-width="0"/>
<rect x="469.7" y="662.2" width="544.1" height="9.1" fill="#e6e7e8" stroke="#231f20" stroke-width="0"/>
<line x1="458" y1="662.2" x2="1026" y2="662.2" stroke="#231f20" stroke-width="1.5"/>
<line x1="455" y1="716.7" x2="1027" y2="716.7" stroke="#231f20" stroke-width="1.6"/>
<path d="M469.7,662.2 V671.3 H473.3 V716.7" fill="none" stroke="#231f20" stroke-width="1.03"/>
<path d="M1013.8,662.2 V671.7 H1009.7 V716.7" fill="none" stroke="#231f20" stroke-width="1.03"/>
<line x1="473.3" y1="671.3" x2="1009.7" y2="671.3" stroke="#231f20" stroke-width="1.08"/>
<line x1="473.3" y1="681.7" x2="1009.7" y2="681.7" stroke="#231f20" stroke-width="1"/>
<line x1="473.3" y1="694" x2="1009.7" y2="694" stroke="#231f20" stroke-width="1.08"/>
<line x1="473.3" y1="696.5" x2="1009.7" y2="696.5" stroke="#231f20" stroke-width="1.08"/>
<rect x="466.3" y="692.5" width="7" height="5" fill="#eaebec" stroke="#231f20" stroke-width="0.8"/>
<rect x="1009.7" y="692.5" width="6.6" height="5" fill="#eaebec" stroke="#231f20" stroke-width="0.8"/>
<path d="M455,684.5 L455,690.5 L460.5,687.5 Z" fill="#eaebec" stroke="#231f20" stroke-width="0.92" stroke-linejoin="round"/>
<path d="M1028,684.5 L1028,690.5 L1022.5,687.5 Z" fill="#eaebec" stroke="#231f20" stroke-width="0.92" stroke-linejoin="round"/>
<line x1="453" y1="699.3" x2="473.3" y2="699.3" stroke="#231f20" stroke-width="0.96"/>
<line x1="455" y1="707.5" x2="473.3" y2="707.5" stroke="#231f20" stroke-width="0.96"/>
<line x1="455.2" y1="699.3" x2="455.2" y2="715" stroke="#231f20" stroke-width="0.96"/>
<line x1="462.5" y1="699.3" x2="462.5" y2="707.5" stroke="#231f20" stroke-width="0.96"/>
<ellipse cx="457" cy="711.3" rx="1" ry="2.3" fill="none" stroke="#231f20" stroke-width="0.7"/>
<line x1="1009.7" y1="699.3" x2="1030.5" y2="699.3" stroke="#231f20" stroke-width="0.96"/>
<line x1="1009.7" y1="707.5" x2="1028" y2="707.5" stroke="#231f20" stroke-width="0.96"/>
<line x1="1020.8" y1="699.3" x2="1020.8" y2="707.5" stroke="#231f20" stroke-width="0.96"/>
<line x1="1027.3" y1="699.3" x2="1027.3" y2="715" stroke="#231f20" stroke-width="0.96"/>
<ellipse cx="1026" cy="711.3" rx="1" ry="2.3" fill="none" stroke="#231f20" stroke-width="0.7"/>
<rect x="593.7" y="659.7" width="102.6" height="20.3" fill="#e6e7e8" stroke="#231f20" stroke-width="1"/>
<line x1="593.7" y1="659.7" x2="696.3" y2="659.7" stroke="#231f20" stroke-width="1.8"/>
<line x1="593.7" y1="680.6" x2="696.3" y2="680.6" stroke="#231f20" stroke-width="1.4"/>
<rect x="619.5" y="666.3" width="51.3" height="10" fill="#e6e7e8" stroke="#231f20" stroke-width="1.1"/>
<line x1="622.1" y1="671.3" x2="631.3" y2="671.3" stroke="#231f20" stroke-width="0.72"/>
<line x1="626.7" y1="666.8" x2="626.7" y2="675.9" stroke="#231f20" stroke-width="0.72"/>
<circle cx="626.7" cy="671.3" r="2.9" fill="#231f20" stroke="#231f20" stroke-width="0.3"/>
<line x1="658.7" y1="671.3" x2="667.9" y2="671.3" stroke="#231f20" stroke-width="0.72"/>
<line x1="663.3" y1="666.8" x2="663.3" y2="675.9" stroke="#231f20" stroke-width="0.72"/>
<circle cx="663.3" cy="671.3" r="2.9" fill="#231f20" stroke="#231f20" stroke-width="0.3"/>
<path d="M640.3,676.3 V688 H650.8 V676.3" fill="none" stroke="#231f20" stroke-width="1"/>
<rect x="632.5" y="683.3" width="5.3" height="28.9" fill="#eaebec" stroke="#231f20" stroke-width="1"/>
<rect x="651.3" y="683.3" width="5.4" height="28.9" fill="#eaebec" stroke="#231f20" stroke-width="1"/>
<rect x="942" y="683.3" width="5.8" height="28.9" fill="#eaebec" stroke="#231f20" stroke-width="1"/>
<rect x="625.3" y="692.6" width="4.4" height="5" fill="#3a3a3c" stroke="#231f20" stroke-width="0.6"/>
<rect x="640.3" y="692.6" width="8" height="5" fill="#3a3a3c" stroke="#231f20" stroke-width="0.6"/>
<rect x="659.2" y="692.6" width="4.6" height="5" fill="#3a3a3c" stroke="#231f20" stroke-width="0.6"/>
<rect x="935" y="692.6" width="4.7" height="5" fill="#3a3a3c" stroke="#231f20" stroke-width="0.6"/>
<rect x="950" y="692.6" width="4.7" height="5" fill="#3a3a3c" stroke="#231f20" stroke-width="0.6"/>
<rect x="415.3" y="704" width="4.7" height="11" fill="#fff" stroke="#231f20" stroke-width="1"/>
<line x1="415.3" y1="707" x2="420" y2="707" stroke="#231f20" stroke-width="0.72"/>
<line x1="415.3" y1="709.7" x2="420" y2="709.7" stroke="#231f20" stroke-width="0.72"/>
<line x1="415.3" y1="712.4" x2="420" y2="712.4" stroke="#231f20" stroke-width="0.72"/>
<rect x="420" y="702.5" width="6" height="13.8" fill="#e6e7e8" stroke="#231f20" stroke-width="1"/>
<rect x="426" y="703.5" width="14.5" height="12" fill="#d1d3d4" stroke="#231f20" stroke-width="1"/>
<rect x="440.5" y="707.8" width="11.5" height="4.2" fill="#bcbec0" stroke="#231f20" stroke-width="0.9"/>
<line x1="443.5" y1="707.8" x2="443.5" y2="712" stroke="#231f20" stroke-width="0.72"/>
<line x1="446" y1="707.8" x2="446" y2="712" stroke="#231f20" stroke-width="0.72"/>
<line x1="448.5" y1="707.8" x2="448.5" y2="712" stroke="#231f20" stroke-width="0.72"/>
<text x="572.5" y="642.5" font-size="14" fill="#231f20" textLength="15" lengthAdjust="spacing">17</text>
<line x1="569.2" y1="644.7" x2="585" y2="644.7" stroke="#231f20" stroke-width="0.84"/>
<line x1="569.2" y1="644.7" x2="569.2" y2="686.7" stroke="#231f20" stroke-width="0.84"/>
<polygon points="569.2,659.4 567.95,652.9 570.45,652.9" fill="#231f20"/>
<polygon points="569.2,671.3 567.95,677.8 570.45,677.8" fill="#231f20"/>
<line x1="566.7" y1="659.4" x2="590.8" y2="659.4" stroke="#231f20" stroke-width="0.84"/>
<line x1="626.7" y1="641.7" x2="626.7" y2="667" stroke="#231f20" stroke-width="0.84"/>
<line x1="663.3" y1="641.7" x2="663.3" y2="667" stroke="#231f20" stroke-width="0.84"/>
<line x1="626.7" y1="645" x2="663.3" y2="645" stroke="#231f20" stroke-width="0.84"/>
<polygon points="626.7,645 633.2,643.75 633.2,646.25" fill="#231f20"/>
<polygon points="663.3,645 656.8,643.75 656.8,646.25" fill="#231f20"/>
<text x="645" y="642" font-size="14" fill="#231f20" text-anchor="middle" textLength="15.8" lengthAdjust="spacing">50</text>
<path d="M946.7,651.2 H689.2 L650.8,680.8" fill="none" stroke="#231f20" stroke-width="0.8"/>
<path d="M452,788.3 H443 Q432,788.8 431.7,812 V862 Q432,886 443,886.5 H452" fill="none" stroke="#231f20" stroke-width="0.92" stroke-dasharray="30 3 5 3"/>
<path d="M464,788.3 H1021 Q1030.7,788.3 1031.2,803 Q1032.6,837.6 1031.2,872 Q1030.7,886.5 1021,886.5 H464 Q454.6,886.5 454.2,870 V805 Q454.6,788.3 464,788.3 Z" fill="#eaebec" stroke="#231f20" stroke-width="1.7"/>
<path d="M473.3,788.3 H1008.6 V799 Q1008.6,803.3 1013,803.3 H1027 V871.7 H1013 Q1008.6,871.7 1008.6,876 V886.5 H473.3 V876 Q473.3,871.7 469,871.7 H456.5 V803.3 H469 Q473.3,803.3 473.3,799 Z" fill="#e6e7e8" stroke="#231f20" stroke-width="1.03"/>
<line x1="462" y1="788.3" x2="1022" y2="788.3" stroke="#231f20" stroke-width="1.7"/>
<line x1="462" y1="886.5" x2="1022" y2="886.5" stroke="#231f20" stroke-width="1.7"/>
<line x1="1027" y1="803.3" x2="1027" y2="871.7" stroke="#231f20" stroke-width="0.96"/>
<line x1="456.5" y1="813.5" x2="1027" y2="813.5" stroke="#231f20" stroke-width="1.08"/>
<line x1="456.5" y1="861.5" x2="1027" y2="861.5" stroke="#231f20" stroke-width="1.08"/>
<line x1="458" y1="837.6" x2="1029" y2="837.6" stroke="#4d4d4f" stroke-width="1.25" stroke-dasharray="40 6 10 6"/>
<line x1="563.1" y1="799.2" x2="571.9" y2="799.2" stroke="#231f20" stroke-width="0.9"/>
<line x1="567.5" y1="794.8" x2="567.5" y2="803.6" stroke="#231f20" stroke-width="0.9"/>
<circle cx="567.5" cy="799.2" r="2.4" fill="#8a8c8e" stroke="#231f20" stroke-width="1.1"/>
<line x1="565.1" y1="799.2" x2="569.9" y2="799.2" stroke="#231f20" stroke-width="0.6"/>
<line x1="567.5" y1="796.8" x2="567.5" y2="801.6" stroke="#231f20" stroke-width="0.6"/>
<line x1="570.8" y1="799.2" x2="579.2" y2="799.2" stroke="#231f20" stroke-width="0.9"/>
<line x1="575" y1="795" x2="575" y2="803.4" stroke="#231f20" stroke-width="0.9"/>
<circle cx="575" cy="799.2" r="2.2" fill="#231f20" stroke="#231f20" stroke-width="0.4"/>
<line x1="563.1" y1="876.7" x2="571.9" y2="876.7" stroke="#231f20" stroke-width="0.9"/>
<line x1="567.5" y1="872.3" x2="567.5" y2="881.1" stroke="#231f20" stroke-width="0.9"/>
<circle cx="567.5" cy="876.7" r="2.4" fill="#8a8c8e" stroke="#231f20" stroke-width="1.1"/>
<line x1="565.1" y1="876.7" x2="569.9" y2="876.7" stroke="#231f20" stroke-width="0.6"/>
<line x1="567.5" y1="874.3" x2="567.5" y2="879.1" stroke="#231f20" stroke-width="0.6"/>
<line x1="570.8" y1="876.7" x2="579.2" y2="876.7" stroke="#231f20" stroke-width="0.9"/>
<line x1="575" y1="872.5" x2="575" y2="880.9" stroke="#231f20" stroke-width="0.9"/>
<circle cx="575" cy="876.7" r="2.2" fill="#231f20" stroke="#231f20" stroke-width="0.4"/>
<line x1="709.8" y1="799.2" x2="718.6" y2="799.2" stroke="#231f20" stroke-width="0.9"/>
<line x1="714.2" y1="794.8" x2="714.2" y2="803.6" stroke="#231f20" stroke-width="0.9"/>
<circle cx="714.2" cy="799.2" r="2.4" fill="#8a8c8e" stroke="#231f20" stroke-width="1.1"/>
<line x1="711.8" y1="799.2" x2="716.6" y2="799.2" stroke="#231f20" stroke-width="0.6"/>
<line x1="714.2" y1="796.8" x2="714.2" y2="801.6" stroke="#231f20" stroke-width="0.6"/>
<line x1="717.5" y1="799.2" x2="725.9" y2="799.2" stroke="#231f20" stroke-width="0.9"/>
<line x1="721.7" y1="795" x2="721.7" y2="803.4" stroke="#231f20" stroke-width="0.9"/>
<circle cx="721.7" cy="799.2" r="2.2" fill="#231f20" stroke="#231f20" stroke-width="0.4"/>
<line x1="709.8" y1="876.7" x2="718.6" y2="876.7" stroke="#231f20" stroke-width="0.9"/>
<line x1="714.2" y1="872.3" x2="714.2" y2="881.1" stroke="#231f20" stroke-width="0.9"/>
<circle cx="714.2" cy="876.7" r="2.4" fill="#8a8c8e" stroke="#231f20" stroke-width="1.1"/>
<line x1="711.8" y1="876.7" x2="716.6" y2="876.7" stroke="#231f20" stroke-width="0.6"/>
<line x1="714.2" y1="874.3" x2="714.2" y2="879.1" stroke="#231f20" stroke-width="0.6"/>
<line x1="717.5" y1="876.7" x2="725.9" y2="876.7" stroke="#231f20" stroke-width="0.9"/>
<line x1="721.7" y1="872.5" x2="721.7" y2="880.9" stroke="#231f20" stroke-width="0.9"/>
<circle cx="721.7" cy="876.7" r="2.2" fill="#231f20" stroke="#231f20" stroke-width="0.4"/>
<line x1="856.9" y1="799.2" x2="865.7" y2="799.2" stroke="#231f20" stroke-width="0.9"/>
<line x1="861.3" y1="794.8" x2="861.3" y2="803.6" stroke="#231f20" stroke-width="0.9"/>
<circle cx="861.3" cy="799.2" r="2.4" fill="#8a8c8e" stroke="#231f20" stroke-width="1.1"/>
<line x1="858.9" y1="799.2" x2="863.7" y2="799.2" stroke="#231f20" stroke-width="0.6"/>
<line x1="861.3" y1="796.8" x2="861.3" y2="801.6" stroke="#231f20" stroke-width="0.6"/>
<line x1="864.3" y1="799.2" x2="872.7" y2="799.2" stroke="#231f20" stroke-width="0.9"/>
<line x1="868.5" y1="795" x2="868.5" y2="803.4" stroke="#231f20" stroke-width="0.9"/>
<circle cx="868.5" cy="799.2" r="2.2" fill="#231f20" stroke="#231f20" stroke-width="0.4"/>
<line x1="856.9" y1="876.7" x2="865.7" y2="876.7" stroke="#231f20" stroke-width="0.9"/>
<line x1="861.3" y1="872.3" x2="861.3" y2="881.1" stroke="#231f20" stroke-width="0.9"/>
<circle cx="861.3" cy="876.7" r="2.4" fill="#8a8c8e" stroke="#231f20" stroke-width="1.1"/>
<line x1="858.9" y1="876.7" x2="863.7" y2="876.7" stroke="#231f20" stroke-width="0.6"/>
<line x1="861.3" y1="874.3" x2="861.3" y2="879.1" stroke="#231f20" stroke-width="0.6"/>
<line x1="864.3" y1="876.7" x2="872.7" y2="876.7" stroke="#231f20" stroke-width="0.9"/>
<line x1="868.5" y1="872.5" x2="868.5" y2="880.9" stroke="#231f20" stroke-width="0.9"/>
<circle cx="868.5" cy="876.7" r="2.2" fill="#231f20" stroke="#231f20" stroke-width="0.4"/>
<line x1="967.1" y1="799.2" x2="975.9" y2="799.2" stroke="#231f20" stroke-width="0.9"/>
<line x1="971.5" y1="794.8" x2="971.5" y2="803.6" stroke="#231f20" stroke-width="0.9"/>
<circle cx="971.5" cy="799.2" r="2.4" fill="#8a8c8e" stroke="#231f20" stroke-width="1.1"/>
<line x1="969.1" y1="799.2" x2="973.9" y2="799.2" stroke="#231f20" stroke-width="0.6"/>
<line x1="971.5" y1="796.8" x2="971.5" y2="801.6" stroke="#231f20" stroke-width="0.6"/>
<line x1="974.6" y1="799.2" x2="983" y2="799.2" stroke="#231f20" stroke-width="0.9"/>
<line x1="978.8" y1="795" x2="978.8" y2="803.4" stroke="#231f20" stroke-width="0.9"/>
<circle cx="978.8" cy="799.2" r="2.2" fill="#231f20" stroke="#231f20" stroke-width="0.4"/>
<line x1="967.1" y1="876.7" x2="975.9" y2="876.7" stroke="#231f20" stroke-width="0.9"/>
<line x1="971.5" y1="872.3" x2="971.5" y2="881.1" stroke="#231f20" stroke-width="0.9"/>
<circle cx="971.5" cy="876.7" r="2.4" fill="#8a8c8e" stroke="#231f20" stroke-width="1.1"/>
<line x1="969.1" y1="876.7" x2="973.9" y2="876.7" stroke="#231f20" stroke-width="0.6"/>
<line x1="971.5" y1="874.3" x2="971.5" y2="879.1" stroke="#231f20" stroke-width="0.6"/>
<line x1="974.6" y1="876.7" x2="983" y2="876.7" stroke="#231f20" stroke-width="0.9"/>
<line x1="978.8" y1="872.5" x2="978.8" y2="880.9" stroke="#231f20" stroke-width="0.9"/>
<circle cx="978.8" cy="876.7" r="2.2" fill="#231f20" stroke="#231f20" stroke-width="0.4"/>
<rect x="420.8" y="822" width="33.2" height="5.5" fill="#d1d3d4" stroke="#231f20" stroke-width="1.4"/>
<line x1="421" y1="824.8" x2="454" y2="824.8" stroke="#231f20" stroke-width="0.84"/>
<rect x="415.8" y="833.3" width="5.2" height="8.4" fill="#fff" stroke="#231f20" stroke-width="1.4"/>
<rect x="421" y="834" width="12.3" height="7" fill="#d1d3d4" stroke="#231f20" stroke-width="1.4"/>
<line x1="423.5" y1="834" x2="423.5" y2="841" stroke="#231f20" stroke-width="0.72"/>
<rect x="417.5" y="831" width="10.5" height="2.3" fill="#a7a9ac" stroke="#231f20" stroke-width="0.7"/>
<path d="M433.3,836.4 H438 L441,834.7 H447 V840.6 H441 L438,838.8 H433.3 Z" fill="#bcbec0" stroke="#231f20" stroke-width="1.2"/>
<line x1="447" y1="837.6" x2="454.5" y2="837.6" stroke="#58595b" stroke-width="2.2"/>
<rect x="415.8" y="846" width="5.7" height="10" fill="#fff" stroke="#231f20" stroke-width="1.4"/>
<line x1="415.8" y1="848.5" x2="421.5" y2="848.5" stroke="#231f20" stroke-width="0.72"/>
<line x1="415.8" y1="851" x2="421.5" y2="851" stroke="#231f20" stroke-width="0.72"/>
<line x1="415.8" y1="853.5" x2="421.5" y2="853.5" stroke="#231f20" stroke-width="0.72"/>
<rect x="421.5" y="844.8" width="5.5" height="12.2" fill="#e6e7e8" stroke="#231f20" stroke-width="1.4"/>
<rect x="427" y="846.2" width="13.8" height="9.4" fill="#d1d3d4" stroke="#231f20" stroke-width="1.4"/>
<rect x="440.8" y="849" width="13.2" height="4" fill="#bcbec0" stroke="#231f20" stroke-width="1.3"/>
<line x1="444" y1="849" x2="444" y2="853" stroke="#231f20" stroke-width="0.72"/>
<line x1="446.5" y1="849" x2="446.5" y2="853" stroke="#231f20" stroke-width="0.72"/>
<line x1="449" y1="849" x2="449" y2="853" stroke="#231f20" stroke-width="0.72"/>
<line x1="451.3" y1="771" x2="451.3" y2="911.7" stroke="#231f20" stroke-width="0.84"/>
<line x1="567.5" y1="771" x2="567.5" y2="793" stroke="#231f20" stroke-width="1.1"/>
<line x1="861.3" y1="771" x2="861.3" y2="793" stroke="#231f20" stroke-width="1.1"/>
<line x1="971.5" y1="771" x2="971.5" y2="793" stroke="#231f20" stroke-width="1.1"/>
<line x1="1031.3" y1="771" x2="1031.3" y2="800" stroke="#231f20" stroke-width="0.84"/>
<line x1="451.3" y1="773.8" x2="567.5" y2="773.8" stroke="#231f20" stroke-width="0.84"/>
<polygon points="451.3,773.8 457.8,772.55 457.8,775.05" fill="#231f20"/>
<polygon points="567.5,773.8 561,772.55 561,775.05" fill="#231f20"/>
<line x1="567.5" y1="773.8" x2="861.3" y2="773.8" stroke="#231f20" stroke-width="0.84"/>
<polygon points="567.5,773.8 574,772.55 574,775.05" fill="#231f20"/>
<polygon points="861.3,773.8 854.8,772.55 854.8,775.05" fill="#231f20"/>
<line x1="861.3" y1="773.8" x2="971.5" y2="773.8" stroke="#231f20" stroke-width="0.84"/>
<polygon points="861.3,773.8 867.8,772.55 867.8,775.05" fill="#231f20"/>
<polygon points="971.5,773.8 965,772.55 965,775.05" fill="#231f20"/>
<line x1="971.5" y1="773.8" x2="1031.3" y2="773.8" stroke="#231f20" stroke-width="0.84"/>
<polygon points="971.5,773.8 978,772.55 978,775.05" fill="#231f20"/>
<polygon points="1031.3,773.8 1024.8,772.55 1024.8,775.05" fill="#231f20"/>
<text x="491.7" y="770.3" font-size="14" fill="#231f20" textLength="35.8" lengthAdjust="spacing">158.5</text>
<text x="689.7" y="771.3" font-size="14" fill="#231f20" textLength="44.5" lengthAdjust="spacing">M*200</text>
<text x="918.5" y="771.3" font-size="14" fill="#231f20" text-anchor="middle">A</text>
<text x="984.7" y="771.3" font-size="14" fill="#231f20" textLength="28.5" lengthAdjust="spacing">81.5</text>
<line x1="575" y1="882" x2="575" y2="911.7" stroke="#231f20" stroke-width="1.1"/>
<line x1="868.5" y1="882" x2="868.5" y2="911.7" stroke="#231f20" stroke-width="1.1"/>
<line x1="978.8" y1="882" x2="978.8" y2="911.7" stroke="#231f20" stroke-width="1.1"/>
<line x1="1031.3" y1="876" x2="1031.3" y2="911.7" stroke="#231f20" stroke-width="0.84"/>
<line x1="451.3" y1="908.4" x2="575" y2="908.4" stroke="#231f20" stroke-width="0.84"/>
<polygon points="451.3,908.4 457.8,907.15 457.8,909.65" fill="#231f20"/>
<polygon points="575,908.4 568.5,907.15 568.5,909.65" fill="#231f20"/>
<line x1="575" y1="908.4" x2="868.5" y2="908.4" stroke="#231f20" stroke-width="0.84"/>
<polygon points="575,908.4 581.5,907.15 581.5,909.65" fill="#231f20"/>
<polygon points="868.5,908.4 862,907.15 862,909.65" fill="#231f20"/>
<line x1="868.5" y1="908.4" x2="978.8" y2="908.4" stroke="#231f20" stroke-width="0.84"/>
<polygon points="868.5,908.4 875,907.15 875,909.65" fill="#231f20"/>
<polygon points="978.8,908.4 972.3,907.15 972.3,909.65" fill="#231f20"/>
<line x1="978.8" y1="908.4" x2="1031.3" y2="908.4" stroke="#231f20" stroke-width="0.84"/>
<polygon points="978.8,908.4 985.3,907.15 985.3,909.65" fill="#231f20"/>
<polygon points="1031.3,908.4 1024.8,907.15 1024.8,909.65" fill="#231f20"/>
<text x="491.7" y="904.3" font-size="14" fill="#231f20" textLength="35.8" lengthAdjust="spacing">168.5</text>
<text x="701.8" y="904.8" font-size="14" fill="#231f20" textLength="44.3" lengthAdjust="spacing">M*200</text>
<text x="925" y="904.8" font-size="14" fill="#231f20" text-anchor="middle">A</text>
<text x="989.8" y="904.8" font-size="14" fill="#231f20" textLength="27.5" lengthAdjust="spacing">71.5</text>
<line x1="378.3" y1="788.3" x2="445" y2="788.3" stroke="#231f20" stroke-width="0.84"/>
<line x1="378.3" y1="886.5" x2="445" y2="886.5" stroke="#231f20" stroke-width="0.84"/>
<line x1="381.4" y1="788.3" x2="381.4" y2="886.5" stroke="#231f20" stroke-width="0.84"/>
<polygon points="381.4,788.3 380.15,794.8 382.65,794.8" fill="#231f20"/>
<polygon points="381.4,886.5 380.15,880 382.65,880" fill="#231f20"/>
<text x="378.6" y="837.6" font-size="14" fill="#231f20" text-anchor="middle" transform="rotate(-90 378.6 837.6)" textLength="24" lengthAdjust="spacing">135</text>
<line x1="396.7" y1="799.2" x2="560.8" y2="799.2" stroke="#231f20" stroke-width="0.84"/>
<line x1="396.7" y1="876.7" x2="560.8" y2="876.7" stroke="#231f20" stroke-width="0.84"/>
<line x1="399.6" y1="799.2" x2="399.6" y2="876.7" stroke="#231f20" stroke-width="0.84"/>
<polygon points="399.6,799.2 398.35,805.7 400.85,805.7" fill="#231f20"/>
<polygon points="399.6,876.7 398.35,870.2 400.85,870.2" fill="#231f20"/>
<text x="396.8" y="837.6" font-size="14" fill="#231f20" text-anchor="middle" transform="rotate(-90 396.8 837.6)" textLength="24" lengthAdjust="spacing">106</text>
<line x1="429.2" y1="818" x2="429.2" y2="911.7" stroke="#231f20" stroke-width="0.84"/>
<line x1="307.5" y1="908.4" x2="429.2" y2="908.4" stroke="#231f20" stroke-width="0.84"/>
<polygon points="429.2,908.4 422.7,907.15 422.7,909.65" fill="#231f20"/>
<text x="308.3" y="889.2" font-size="14.3" fill="#231f20" textLength="54.2" lengthAdjust="spacing">煞車+40</text>
<text x="308.3" y="903.3" font-size="11.6" fill="#8a8c8e" textLength="55" lengthAdjust="spacing">Brake:+40</text>
<text x="615.3" y="920.8" font-size="14" fill="#231f20" textLength="32.2" lengthAdjust="spacing">N-Ø7</text>
<path d="M647.5,923 H614.2 L555,864.2" fill="none" stroke="#231f20" stroke-width="0.8"/>
<polygon points="565.3,874.4 559.81,870.71 561.57,868.93" fill="#231f20"/>
<text x="753.4" y="924.2" font-size="14" fill="#231f20" letter-spacing="0.3">N-M6</text>
<text transform="translate(794.08 923.3) scale(1.58 1.04)" font-family="DejaVu Sans,sans-serif" font-size="11.6" text-anchor="middle" fill="#231f20" stroke="#231f20" stroke-width="0.08">↧</text>
<text x="799.63" y="924.2" font-size="14" fill="#231f20" letter-spacing="0.3">10</text>
<path d="M751,926.3 H822 L880.7,864.7" fill="none" stroke="#231f20" stroke-width="0.8"/>
<polygon points="870.6,875.3 874.18,869.73 875.99,871.46" fill="#231f20"/>
<circle cx="71.5" cy="1159" r="22.8" fill="url(#gc)" stroke="none" stroke-width="0"/>
<text x="71.5" y="1168" font-size="25.5" fill="#fff" text-anchor="middle" textLength="28" lengthAdjust="spacingAndGlyphs">BC</text>
<text x="97.5" y="1169.6" font-size="24.5" font-weight="900" fill="#4d4d4f" font-family="Noto Sans CJK SC,sans-serif">马达外露</text>
<text x="207.7" y="1168.2" font-size="15" fill="#58585a" textLength="101.6" lengthAdjust="spacing">Motor Exposed</text>
<g transform="translate(332.8 1132.5)">
<rect x="0" y="0" width="50.5" height="49" fill="url(#gi)"/>
<path d="M14,0 H45 V16.3 H16.5 Q14,16.3 14,13.8 Z" fill="#fff"/>
<rect x="36.3" y="1.6" width="6.6" height="13.2" fill="url(#gs)"/>
<rect x="4.2" y="19.6" width="41" height="26.2" fill="#fff"/>
<rect x="0.7" y="43.4" width="2.3" height="2.4" fill="#fff"/><rect x="45.7" y="43.4" width="2.3" height="2.4" fill="#fff"/>
<text x="24.7" y="29.8" font-size="11" font-weight="bold" fill="#4d4d4f" text-anchor="middle">2D</text>
<text x="24.7" y="42.3" font-size="11" font-weight="bold" fill="#4d4d4f" text-anchor="middle">CAD</text>
</g>
<g transform="translate(395.2 1132.5)">
<rect x="0" y="0" width="50.5" height="49" fill="url(#gi)"/>
<path d="M14,0 H45 V16.3 H16.5 Q14,16.3 14,13.8 Z" fill="#fff"/>
<rect x="36.3" y="1.6" width="6.6" height="13.2" fill="url(#gs)"/>
<rect x="4.2" y="19.6" width="41" height="26.2" fill="#fff"/>
<rect x="0.7" y="43.4" width="2.3" height="2.4" fill="#fff"/><rect x="45.7" y="43.4" width="2.3" height="2.4" fill="#fff"/>
<text x="24.7" y="29.8" font-size="11" font-weight="bold" fill="#4d4d4f" text-anchor="middle">3D</text>
<text x="24.7" y="42.3" font-size="11" font-weight="bold" fill="#4d4d4f" text-anchor="middle">CAD</text>
</g>
<text x="1103.8" y="1150.7" font-size="13" fill="#3a3a3c" textLength="96.2" lengthAdjust="spacing">单位 Unit：mm</text>
<g transform="translate(-28.2 821)">
<path d="M285.7,512 V537.5 H278.3 V533 H272.6 A10.5,10.5 0 0 0 272.6,554.5 H278.3 V550 H285.7 V565.7 L283.5,565.7 V556.6 H272.6 A13.05,13.05 0 0 1 272.6,530.5 H283.5 V512 Z" fill="#e6e7e8" stroke="#231f20" stroke-width="1.3" stroke-linejoin="round"/>
<line x1="276.6" y1="543.7" x2="297" y2="543.7" stroke="#231f20" stroke-width="1.08"/>
<line x1="287.9" y1="537.5" x2="304.8" y2="537.5" stroke="#231f20" stroke-width="0.84"/>
<line x1="287.9" y1="550" x2="304.8" y2="550" stroke="#231f20" stroke-width="0.84"/>
<line x1="301.8" y1="519.2" x2="301.8" y2="564.4" stroke="#231f20" stroke-width="0.84"/>
<line x1="301.8" y1="519.2" x2="321.8" y2="519.2" stroke="#231f20" stroke-width="0.84"/>
<polygon points="301.8,537.5 300.55,531 303.05,531" fill="#231f20"/>
<polygon points="301.8,550 300.55,556.5 303.05,556.5" fill="#231f20"/>
<text x="302.9" y="515.7" font-size="14" fill="#231f20" textLength="18.9" lengthAdjust="spacing">3.5</text>
<line x1="279.2" y1="556" x2="279.2" y2="579" stroke="#231f20" stroke-width="0.84"/>
<line x1="285.7" y1="567" x2="285.7" y2="599.7" stroke="#231f20" stroke-width="0.84"/>
<line x1="264.4" y1="576.2" x2="327" y2="576.2" stroke="#231f20" stroke-width="0.84"/>
<polygon points="279.2,576.2 272.7,574.95 272.7,577.45" fill="#231f20"/>
<polygon points="285.7,576.2 292.2,574.95 292.2,577.45" fill="#231f20"/>
<text x="308.8" y="572.7" font-size="14" fill="#231f20" textLength="18.2" lengthAdjust="spacing">1.8</text>
<line x1="265.2" y1="554" x2="265.2" y2="599.7" stroke="#231f20" stroke-width="0.84"/>
<line x1="250.5" y1="596.2" x2="328.8" y2="596.2" stroke="#231f20" stroke-width="0.84"/>
<polygon points="265.2,596.2 258.7,594.95 258.7,597.45" fill="#231f20"/>
<polygon points="285.7,596.2 292.2,594.95 292.2,597.45" fill="#231f20"/>
<text x="307.5" y="593.6" font-size="14" fill="#231f20" textLength="19.5" lengthAdjust="spacing">5.5</text>
<line x1="233.5" y1="530.5" x2="270.2" y2="530.5" stroke="#231f20" stroke-width="0.84"/>
<line x1="233.5" y1="556.6" x2="270.2" y2="556.6" stroke="#231f20" stroke-width="0.84"/>
<line x1="236.7" y1="518" x2="236.7" y2="568.4" stroke="#231f20" stroke-width="0.84"/>
<polygon points="236.7,530.5 235.45,524 237.95,524" fill="#231f20"/>
<polygon points="236.7,556.6 235.45,563.1 237.95,563.1" fill="#231f20"/>
<text x="233" y="543.6" font-size="14" fill="#231f20" text-anchor="middle" transform="rotate(-90 233 543.6)" textLength="18.5" lengthAdjust="spacing">5.7</text>
</g>
<text x="231.8" y="1309.4" font-size="14" fill="#29a9e0" textLength="51" lengthAdjust="spacing">B View</text>
<path d="M304.1,1525 H309.7 V1531.6 H314.2 V1560.3 H304.1 Z" fill="#ececed" stroke="#231f20" stroke-width="1.25" stroke-linejoin="miter"/>
<rect x="304.6" y="1516.3" width="3.7" height="6.6" fill="#fff" stroke="#231f20" stroke-width="1.2"/>
<path d="M310.1,1531.6 L313.7,1531.6 L313.7,1538 Z" fill="#231f20" stroke="#231f20" stroke-width="0.34"/>
<circle cx="298.7" cy="1543.5" r="1.7" fill="#d1d3d4" stroke="#231f20" stroke-width="1"/>
<circle cx="301.7" cy="1543.5" r="1.5" fill="#d1d3d4" stroke="#231f20" stroke-width="1"/>
<rect x="303.1" y="1541.6" width="3.8" height="3.8" fill="#d1d3d4" stroke="#231f20" stroke-width="1"/>
<line x1="304.3" y1="1539.8" x2="304.3" y2="1549.8" stroke="#231f20" stroke-width="1"/>
<path d="M204.7,1528.8 V1508.7 Q204.7,1506.7 206.7,1506.7 H211.5 Q213.5,1506.7 213.5,1508.7 V1524.8 Z" fill="#eaebec" stroke="#231f20" stroke-width="1.3"/>
<line x1="209.9" y1="1507.7" x2="209.9" y2="1522.8" stroke="#231f20" stroke-width="0.84"/>
<path d="M295.3,1528.8 V1508.7 Q295.3,1506.7 297.3,1506.7 H302.1 Q304.1,1506.7 304.1,1508.7 V1524.8 Z" fill="#eaebec" stroke="#231f20" stroke-width="1.3"/>
<line x1="298.9" y1="1507.7" x2="298.9" y2="1522.8" stroke="#231f20" stroke-width="0.84"/>
<path d="M205,1564.8 V1529.8 L214.3,1514.6 L229.2,1510.3 H279.6 L294.5,1514.6 L303.8,1529.8 V1564.8 Z" fill="#e6e7e8" stroke="#231f20" stroke-width="1.5" stroke-linejoin="round"/>
<line x1="204.7" y1="1564.8" x2="304.1" y2="1564.8" stroke="#231f20" stroke-width="1.7"/>
<circle cx="210.2" cy="1558.8" r="2.7" fill="#d1d3d4" stroke="#231f20" stroke-width="1.1"/>
<circle cx="210.2" cy="1558.8" r="1.35" fill="#e6e7e8" stroke="#231f20" stroke-width="0.8"/>
<circle cx="298.6" cy="1558.8" r="2.7" fill="#d1d3d4" stroke="#231f20" stroke-width="1.1"/>
<circle cx="298.6" cy="1558.8" r="1.35" fill="#e6e7e8" stroke="#231f20" stroke-width="0.8"/>
<line x1="254.4" y1="1509" x2="254.4" y2="1566.5" stroke="#231f20" stroke-width="0.96" stroke-dasharray="13 3 3 3"/>
<rect x="229.9" y="1514.8" width="48.3" height="47.4" fill="#e6e7e8" stroke="#231f20" stroke-width="1.3"/>
<path d="M238.4,1516.3 H269.7 L276.7,1523.3 V1553.7 L269.7,1560.7 H238.4 L231.4,1553.7 V1523.3 Z" fill="#e6e7e8" stroke="#231f20" stroke-width="1"/>
<circle cx="234.1" cy="1519" r="2.6" fill="#eaebec" stroke="#231f20" stroke-width="0.8"/>
<circle cx="234.1" cy="1519" r="1.3" fill="none" stroke="#231f20" stroke-width="0.6"/>
<circle cx="274" cy="1519" r="2.6" fill="#eaebec" stroke="#231f20" stroke-width="0.8"/>
<circle cx="274" cy="1519" r="1.3" fill="none" stroke="#231f20" stroke-width="0.6"/>
<circle cx="234.1" cy="1558" r="2.6" fill="#eaebec" stroke="#231f20" stroke-width="0.8"/>
<circle cx="234.1" cy="1558" r="1.3" fill="none" stroke="#231f20" stroke-width="0.6"/>
<circle cx="274" cy="1558" r="2.6" fill="#eaebec" stroke="#231f20" stroke-width="0.8"/>
<circle cx="274" cy="1558" r="1.3" fill="none" stroke="#231f20" stroke-width="0.6"/>
<line x1="229.9" y1="1562.2" x2="278.2" y2="1562.2" stroke="#231f20" stroke-width="1.8"/>
<rect x="278.2" y="1529.6" width="8.9" height="17" fill="#eaebec" stroke="#231f20" stroke-width="0.9"/>
<rect x="287.1" y="1535.5" width="15.9" height="5.2" fill="#eaebec" stroke="#231f20" stroke-width="0.9"/>
<line x1="253.9" y1="1508" x2="253.9" y2="1566.8" stroke="#231f20" stroke-width="1.08" stroke-dasharray="13 3"/>
<circle cx="208.1" cy="1535.5" r="2.6" fill="#d1d3d4" stroke="#231f20" stroke-width="1.1"/>
<circle cx="208.1" cy="1535.5" r="1.3" fill="#e6e7e8" stroke="#231f20" stroke-width="0.8"/>
<circle cx="209.7" cy="1559" r="2.6" fill="#d1d3d4" stroke="#231f20" stroke-width="1.1"/>
<circle cx="209.7" cy="1559" r="1.3" fill="#e6e7e8" stroke="#231f20" stroke-width="0.8"/>
<circle cx="298.2" cy="1559" r="2.6" fill="#d1d3d4" stroke="#231f20" stroke-width="1.1"/>
<circle cx="298.2" cy="1559" r="1.3" fill="#e6e7e8" stroke="#231f20" stroke-width="0.8"/>
<circle cx="207.5" cy="1544" r="2" fill="#58595b" stroke="#231f20" stroke-width="0.8"/>
<circle cx="302.1" cy="1543.7" r="10.4" fill="none" stroke="#29a9e0" stroke-width="1.4"/>
<text x="313.1" y="1526.9" font-size="13" fill="#29a9e0">B</text>
<line x1="168.1" y1="1507.4" x2="202.3" y2="1507.4" stroke="#231f20" stroke-width="0.84"/>
<line x1="168.1" y1="1564.8" x2="204.7" y2="1564.8" stroke="#231f20" stroke-width="0.84"/>
<line x1="171.4" y1="1507.4" x2="171.4" y2="1564.8" stroke="#231f20" stroke-width="0.84"/>
<polygon points="171.4,1507.4 170.15,1513.9 172.65,1513.9" fill="#231f20"/>
<polygon points="171.4,1564.8 170.15,1558.3 172.65,1558.3" fill="#231f20"/>
<text x="169.5" y="1535.1" font-size="14" fill="#231f20" text-anchor="middle" transform="rotate(-90 169.5 1535.1)" textLength="16" lengthAdjust="spacing">78</text>
<line x1="190.3" y1="1528.8" x2="190.3" y2="1580.1" stroke="#231f20" stroke-width="0.84"/>
<polygon points="190.3,1543.5 189.05,1537 191.55,1537" fill="#231f20"/>
<polygon points="190.3,1564.8 189.05,1571.3 191.55,1571.3" fill="#231f20"/>
<line x1="187.3" y1="1543.5" x2="202.3" y2="1543.5" stroke="#231f20" stroke-width="0.84" stroke-dasharray="9 2 2 2"/>
<text x="187.7" y="1554" font-size="14" fill="#231f20" text-anchor="middle" transform="rotate(-90 187.7 1554)" textLength="16" lengthAdjust="spacing">29</text>
<line x1="215.1" y1="1564.8" x2="215.1" y2="1594.3" stroke="#231f20" stroke-width="0.84"/>
<line x1="293" y1="1564.8" x2="293" y2="1594.3" stroke="#231f20" stroke-width="0.84"/>
<line x1="215.1" y1="1591.3" x2="293" y2="1591.3" stroke="#231f20" stroke-width="0.84"/>
<polygon points="215.1,1591.3 221.6,1590.05 221.6,1592.55" fill="#231f20"/>
<polygon points="293,1591.3 286.5,1590.05 286.5,1592.55" fill="#231f20"/>
<text x="254.3" y="1587.3" font-size="14" fill="#231f20" text-anchor="middle" textLength="24" lengthAdjust="spacing">106</text>
<line x1="204.7" y1="1564.8" x2="204.7" y2="1612.9" stroke="#231f20" stroke-width="0.84"/>
<line x1="304.1" y1="1564.8" x2="304.1" y2="1612.9" stroke="#231f20" stroke-width="0.84"/>
<line x1="204.7" y1="1609.9" x2="304.1" y2="1609.9" stroke="#231f20" stroke-width="0.84"/>
<polygon points="204.7,1609.9 211.2,1608.65 211.2,1611.15" fill="#231f20"/>
<polygon points="304.1,1609.9 297.6,1608.65 297.6,1611.15" fill="#231f20"/>
<text x="254.3" y="1606.6" font-size="14" fill="#231f20" text-anchor="middle" textLength="24" lengthAdjust="spacing">135</text>
<path d="M983.7,1525.8 H978.1 V1532.4 H973.6 V1561.1 H983.7 Z" fill="#ececed" stroke="#231f20" stroke-width="1.25" stroke-linejoin="miter"/>
<rect x="979.5" y="1517.1" width="3.7" height="6.6" fill="#fff" stroke="#231f20" stroke-width="1.2"/>
<path d="M977.7,1532.4 L974.1,1532.4 L974.1,1538.8 Z" fill="#231f20" stroke="#231f20" stroke-width="0.34"/>
<circle cx="989.1" cy="1544.3" r="1.7" fill="#d1d3d4" stroke="#231f20" stroke-width="1"/>
<circle cx="986.1" cy="1544.3" r="1.5" fill="#d1d3d4" stroke="#231f20" stroke-width="1"/>
<rect x="980.9" y="1542.4" width="3.8" height="3.8" fill="#d1d3d4" stroke="#231f20" stroke-width="1"/>
<line x1="983.5" y1="1540.6" x2="983.5" y2="1550.6" stroke="#231f20" stroke-width="1"/>
<path d="M1074.5,1529.6 V1509.5 Q1074.5,1507.5 1076.5,1507.5 H1081.3 Q1083.3,1507.5 1083.3,1509.5 V1525.6 Z" fill="#eaebec" stroke="#231f20" stroke-width="1.3"/>
<line x1="1078.1" y1="1508.5" x2="1078.1" y2="1523.6" stroke="#231f20" stroke-width="0.84"/>
<path d="M983.9,1529.6 V1509.5 Q983.9,1507.5 985.9,1507.5 H990.7 Q992.7,1507.5 992.7,1509.5 V1525.6 Z" fill="#eaebec" stroke="#231f20" stroke-width="1.3"/>
<line x1="989.1" y1="1508.5" x2="989.1" y2="1523.6" stroke="#231f20" stroke-width="0.84"/>
<path d="M984.2,1565.6 V1530.6 L993.5,1515.4 L1008.4,1511.1 H1058.8 L1073.7,1515.4 L1083,1530.6 V1565.6 Z" fill="#e6e7e8" stroke="#231f20" stroke-width="1.5" stroke-linejoin="round"/>
<line x1="983.9" y1="1548.7" x2="1083.3" y2="1548.7" stroke="#231f20" stroke-width="1.5"/>
<line x1="983.9" y1="1556.5" x2="1083.3" y2="1556.5" stroke="#231f20" stroke-width="1.1"/>
<path d="M1018.4,1565.6 V1560.1 Q1018.4,1557 1021.9,1557 H1045.3 Q1048.8,1557 1048.8,1560.1 V1565.6" fill="#eaebec" stroke="#231f20" stroke-width="1.1"/>
<line x1="1009.9" y1="1563.9" x2="1057.3" y2="1563.9" stroke="#231f20" stroke-width="0.84"/>
<line x1="983.9" y1="1565.6" x2="1083.3" y2="1565.6" stroke="#231f20" stroke-width="1.7"/>
<circle cx="987.7" cy="1536.8" r="2.8" fill="#d1d3d4" stroke="#231f20" stroke-width="1.1"/>
<circle cx="987.7" cy="1536.8" r="1.4" fill="#e6e7e8" stroke="#231f20" stroke-width="0.8"/>
<circle cx="1079.5" cy="1536.8" r="2.8" fill="#d1d3d4" stroke="#231f20" stroke-width="1.1"/>
<circle cx="1079.5" cy="1536.8" r="1.4" fill="#e6e7e8" stroke="#231f20" stroke-width="0.8"/>
<circle cx="989.4" cy="1559.6" r="2.7" fill="#d1d3d4" stroke="#231f20" stroke-width="1.1"/>
<circle cx="989.4" cy="1559.6" r="1.35" fill="#e6e7e8" stroke="#231f20" stroke-width="0.8"/>
<circle cx="1077.8" cy="1559.6" r="2.7" fill="#d1d3d4" stroke="#231f20" stroke-width="1.1"/>
<circle cx="1077.8" cy="1559.6" r="1.35" fill="#e6e7e8" stroke="#231f20" stroke-width="0.8"/>
<line x1="1033.6" y1="1509.8" x2="1033.6" y2="1567.3" stroke="#231f20" stroke-width="0.96" stroke-dasharray="13 3 3 3"/>
<line x1="993.5" y1="1566" x2="993.5" y2="1570.5" stroke="#231f20" stroke-width="0.84"/>
<line x1="1072.6" y1="1566" x2="1072.6" y2="1570.5" stroke="#231f20" stroke-width="0.84"/>
<path d="M398,1344.7 H380 Q374.7,1344.7 374.7,1350 V1384.5 Q374.7,1389.7 380,1389.7 H398" fill="none" stroke="#231f20" stroke-width="1.03" stroke-dasharray="9 4"/>
<path d="M490,1344.7 H402 Q398.3,1344.7 398.3,1348.5 V1386 Q398.3,1389.7 402,1389.7 H490 Z" fill="#e6e7e8" stroke="#231f20" stroke-width="1.5"/>
<rect x="426.2" y="1343" width="3" height="48.3" fill="#eaebec" stroke="#231f20" stroke-width="1"/>
<line x1="398.3" y1="1367.3" x2="426.2" y2="1367.3" stroke="#231f20" stroke-width="0.96"/>
<rect x="403.3" y="1389.7" width="6.2" height="11.3" fill="#eaebec" stroke="#231f20" stroke-width="1"/>
<rect x="404.3" y="1401" width="4.2" height="6.5" fill="#eaebec" stroke="#231f20" stroke-width="1"/>
<rect x="431.3" y="1389.7" width="11.5" height="3.6" fill="#eaebec" stroke="#231f20" stroke-width="1"/>
<rect x="433.3" y="1393.3" width="7.5" height="6.7" fill="#eaebec" stroke="#231f20" stroke-width="1"/>
<rect x="434.6" y="1400" width="5" height="26.3" fill="#d1d3d4" stroke="#231f20" stroke-width="1.3"/>
<path d="M489.8,1317.3 H886 Q893,1317.3 893.6,1330 Q895.5,1367.3 893.6,1403.5 Q893,1416.3 886,1416.3 H489.8 Z" fill="#eaebec" stroke="#231f20" stroke-width="1.5"/>
<rect x="493.6" y="1317.3" width="383.1" height="99" fill="#e6e7e8" stroke="#231f20" stroke-width="0"/>
<line x1="489.8" y1="1317.3" x2="887" y2="1317.3" stroke="#231f20" stroke-width="1.6"/>
<line x1="489.8" y1="1416.3" x2="887" y2="1416.3" stroke="#231f20" stroke-width="1.6"/>
<line x1="493.6" y1="1317.3" x2="493.6" y2="1416.3" stroke="#231f20" stroke-width="1.08"/>
<ellipse cx="488.6" cy="1321.7" rx="1.3" ry="3.6" fill="#6d6e70" stroke="#231f20" stroke-width="0.7"/>
<ellipse cx="488.6" cy="1411.7" rx="1.3" ry="3.6" fill="#6d6e70" stroke="#231f20" stroke-width="0.7"/>
<line x1="493.6" y1="1322.9" x2="872.5" y2="1322.9" stroke="#231f20" stroke-width="0.96"/>
<line x1="493.6" y1="1326.6" x2="876.7" y2="1326.6" stroke="#231f20" stroke-width="1.08"/>
<line x1="493.6" y1="1407" x2="876.7" y2="1407" stroke="#231f20" stroke-width="1.08"/>
<line x1="493.6" y1="1410.7" x2="872.5" y2="1410.7" stroke="#231f20" stroke-width="0.96"/>
<line x1="493.6" y1="1341.5" x2="876.7" y2="1341.5" stroke="#231f20" stroke-width="1"/>
<line x1="493.6" y1="1343.4" x2="876.7" y2="1343.4" stroke="#231f20" stroke-width="0.96"/>
<line x1="493.6" y1="1391.5" x2="876.7" y2="1391.5" stroke="#231f20" stroke-width="0.96"/>
<line x1="493.6" y1="1393.5" x2="876.7" y2="1393.5" stroke="#231f20" stroke-width="1"/>
<line x1="876.7" y1="1323.5" x2="876.7" y2="1410" stroke="#231f20" stroke-width="1.08"/>
<line x1="872.5" y1="1317.3" x2="872.5" y2="1323.5" stroke="#231f20" stroke-width="0.96"/>
<line x1="872.5" y1="1410" x2="872.5" y2="1416.3" stroke="#231f20" stroke-width="0.96"/>
<line x1="872.5" y1="1323.5" x2="876.7" y2="1323.5" stroke="#231f20" stroke-width="0.96"/>
<line x1="872.5" y1="1410" x2="876.7" y2="1410" stroke="#231f20" stroke-width="0.96"/>
<line x1="405" y1="1367.3" x2="893" y2="1367.3" stroke="#231f20" stroke-width="0.96" stroke-dasharray="40 6 10 6"/>
<rect x="529.2" y="1317.3" width="102.8" height="8.7" fill="#e6e7e8" stroke="#231f20" stroke-width="1"/>
<line x1="529.2" y1="1326.2" x2="632" y2="1326.2" stroke="#231f20" stroke-width="2"/>
<rect x="529.2" y="1407.5" width="102.8" height="8.8" fill="#e6e7e8" stroke="#231f20" stroke-width="1"/>
<line x1="529.2" y1="1407.5" x2="632" y2="1407.5" stroke="#231f20" stroke-width="2"/>
<line x1="531.1" y1="1322.3" x2="539.5" y2="1322.3" stroke="#231f20" stroke-width="0.9"/>
<line x1="535.3" y1="1318.1" x2="535.3" y2="1326.5" stroke="#231f20" stroke-width="0.9"/>
<circle cx="535.3" cy="1322.3" r="2.1" fill="#231f20" stroke="#231f20" stroke-width="0.4"/>
<line x1="531.1" y1="1411.9" x2="539.5" y2="1411.9" stroke="#231f20" stroke-width="0.9"/>
<line x1="535.3" y1="1407.7" x2="535.3" y2="1416.1" stroke="#231f20" stroke-width="0.9"/>
<circle cx="535.3" cy="1411.9" r="2.1" fill="#231f20" stroke="#231f20" stroke-width="0.4"/>
<line x1="550.5" y1="1322.3" x2="558.9" y2="1322.3" stroke="#231f20" stroke-width="0.9"/>
<line x1="554.7" y1="1318.1" x2="554.7" y2="1326.5" stroke="#231f20" stroke-width="0.9"/>
<circle cx="554.7" cy="1322.3" r="2.1" fill="#231f20" stroke="#231f20" stroke-width="0.4"/>
<line x1="550.5" y1="1411.9" x2="558.9" y2="1411.9" stroke="#231f20" stroke-width="0.9"/>
<line x1="554.7" y1="1407.7" x2="554.7" y2="1416.1" stroke="#231f20" stroke-width="0.9"/>
<circle cx="554.7" cy="1411.9" r="2.1" fill="#231f20" stroke="#231f20" stroke-width="0.4"/>
<line x1="602.1" y1="1322.3" x2="610.5" y2="1322.3" stroke="#231f20" stroke-width="0.9"/>
<line x1="606.3" y1="1318.1" x2="606.3" y2="1326.5" stroke="#231f20" stroke-width="0.9"/>
<circle cx="606.3" cy="1322.3" r="2.1" fill="#231f20" stroke="#231f20" stroke-width="0.4"/>
<line x1="602.1" y1="1411.9" x2="610.5" y2="1411.9" stroke="#231f20" stroke-width="0.9"/>
<line x1="606.3" y1="1407.7" x2="606.3" y2="1416.1" stroke="#231f20" stroke-width="0.9"/>
<circle cx="606.3" cy="1411.9" r="2.1" fill="#231f20" stroke="#231f20" stroke-width="0.4"/>
<line x1="621.3" y1="1322.3" x2="629.7" y2="1322.3" stroke="#231f20" stroke-width="0.9"/>
<line x1="625.5" y1="1318.1" x2="625.5" y2="1326.5" stroke="#231f20" stroke-width="0.9"/>
<circle cx="625.5" cy="1322.3" r="2.1" fill="#231f20" stroke="#231f20" stroke-width="0.4"/>
<line x1="621.3" y1="1411.9" x2="629.7" y2="1411.9" stroke="#231f20" stroke-width="0.9"/>
<line x1="625.5" y1="1407.7" x2="625.5" y2="1416.1" stroke="#231f20" stroke-width="0.9"/>
<circle cx="625.5" cy="1411.9" r="2.1" fill="#231f20" stroke="#231f20" stroke-width="0.4"/>
<line x1="576.9" y1="1322.3" x2="583.9" y2="1322.3" stroke="#231f20" stroke-width="0.9"/>
<line x1="580.4" y1="1318.8" x2="580.4" y2="1325.8" stroke="#231f20" stroke-width="0.9"/>
<circle cx="580.4" cy="1322.3" r="2.2" fill="#bbbdbf" stroke="#231f20" stroke-width="1.1"/>
<line x1="578.2" y1="1322.3" x2="582.6" y2="1322.3" stroke="#231f20" stroke-width="0.6"/>
<line x1="580.4" y1="1320.1" x2="580.4" y2="1324.5" stroke="#231f20" stroke-width="0.6"/>
<line x1="576.9" y1="1411.9" x2="583.9" y2="1411.9" stroke="#231f20" stroke-width="0.9"/>
<line x1="580.4" y1="1408.4" x2="580.4" y2="1415.4" stroke="#231f20" stroke-width="0.9"/>
<circle cx="580.4" cy="1411.9" r="2.2" fill="#bbbdbf" stroke="#231f20" stroke-width="1.1"/>
<line x1="578.2" y1="1411.9" x2="582.6" y2="1411.9" stroke="#231f20" stroke-width="0.6"/>
<line x1="580.4" y1="1409.7" x2="580.4" y2="1414.1" stroke="#231f20" stroke-width="0.6"/>
<line x1="503.3" y1="1349.2" x2="513.3" y2="1349.2" stroke="#231f20" stroke-width="0.72"/>
<line x1="508.3" y1="1344.2" x2="508.3" y2="1354.2" stroke="#231f20" stroke-width="0.72"/>
<circle cx="508.3" cy="1349.2" r="2.8" fill="#231f20" stroke="#231f20" stroke-width="0.3"/>
<line x1="503.3" y1="1385.3" x2="513.3" y2="1385.3" stroke="#231f20" stroke-width="0.72"/>
<line x1="508.3" y1="1380.3" x2="508.3" y2="1390.3" stroke="#231f20" stroke-width="0.72"/>
<circle cx="508.3" cy="1385.3" r="2.8" fill="#231f20" stroke="#231f20" stroke-width="0.3"/>
<circle cx="870.6" cy="1347.5" r="2.9" fill="#58595b" stroke="#231f20" stroke-width="1.2"/>
<circle cx="870.6" cy="1387" r="2.9" fill="#58595b" stroke="#231f20" stroke-width="1.2"/>
<path d="M559.2,1416.7 h7.2 v5 h-4.6 v-2.3 h-2.6 Z" fill="#eaebec" stroke="#231f20" stroke-width="1.3"/>
<path d="M602.8,1416.7 h-7.2 v5 h4.6 v-2.3 h2.6 Z" fill="#eaebec" stroke="#231f20" stroke-width="1.3"/>
<rect x="575.5" y="1418.3" width="11.8" height="3" fill="#eaebec" stroke="#231f20" stroke-width="1.2"/>
<rect x="568.1" y="1416.7" width="7.4" height="10.4" fill="#eaebec" stroke="#231f20" stroke-width="1.4"/>
<line x1="568.1" y1="1420.3" x2="575.5" y2="1420.3" stroke="#231f20" stroke-width="0.96"/>
<line x1="568.1" y1="1423.7" x2="575.5" y2="1423.7" stroke="#231f20" stroke-width="0.96"/>
<rect x="587.3" y="1416.7" width="5.7" height="10.4" fill="#eaebec" stroke="#231f20" stroke-width="1.4"/>
<line x1="587.3" y1="1420.3" x2="593" y2="1420.3" stroke="#231f20" stroke-width="0.96"/>
<line x1="587.3" y1="1423.7" x2="593" y2="1423.7" stroke="#231f20" stroke-width="0.96"/>
<path d="M797.5,1416.7 h5 v4.2 h-3 v-2 h-2 Z" fill="#eaebec" stroke="#231f20" stroke-width="1.2"/>
<path d="M816.5,1416.7 h-5 v4.2 h3 v-2 h2 Z" fill="#eaebec" stroke="#231f20" stroke-width="1.2"/>
<rect x="804.2" y="1416.7" width="5.8" height="10" fill="#eaebec" stroke="#231f20" stroke-width="1.3"/>
<line x1="804.2" y1="1420.1" x2="810" y2="1420.1" stroke="#231f20" stroke-width="0.96"/>
<line x1="804.2" y1="1423.4" x2="810" y2="1423.4" stroke="#231f20" stroke-width="0.96"/>
<line x1="802.5" y1="1418.2" x2="811.5" y2="1418.2" stroke="#231f20" stroke-width="1"/>
<line x1="522.5" y1="1298" x2="522.5" y2="1317.3" stroke="#231f20" stroke-width="0.96"/>
<line x1="522.5" y1="1317.3" x2="522.5" y2="1416.3" stroke="#231f20" stroke-width="0.96" stroke-dasharray="22 5"/>
<line x1="580.4" y1="1313.5" x2="580.4" y2="1400" stroke="#231f20" stroke-width="0.96" stroke-dasharray="14 5 24 5 30 5 3 5"/>
<line x1="749.5" y1="1317.3" x2="749.5" y2="1416.3" stroke="#231f20" stroke-width="0.96" stroke-dasharray="22 5"/>
<line x1="800.8" y1="1248.3" x2="800.8" y2="1268" stroke="#231f20" stroke-width="0.84"/>
<line x1="800.8" y1="1306" x2="800.8" y2="1416.3" stroke="#231f20" stroke-width="0.96" stroke-dasharray="25 5 6 5"/>
<line x1="853" y1="1320" x2="853" y2="1345" stroke="#231f20" stroke-width="0.96"/>
<line x1="853" y1="1362" x2="853" y2="1412" stroke="#231f20" stroke-width="0.84" stroke-dasharray="16 5"/>
<line x1="859.2" y1="1302" x2="859.2" y2="1412" stroke="#231f20" stroke-width="0.96" stroke-dasharray="22 5"/>
<line x1="632" y1="1322.8" x2="652.5" y2="1322.8" stroke="#231f20" stroke-width="0.84"/>
<line x1="632" y1="1411.2" x2="652.5" y2="1411.2" stroke="#231f20" stroke-width="0.84"/>
<line x1="650" y1="1322.8" x2="650" y2="1411.2" stroke="#231f20" stroke-width="0.84"/>
<polygon points="650,1322.8 648.75,1329.3 651.25,1329.3" fill="#231f20"/>
<polygon points="650,1411.2 648.75,1404.7 651.25,1404.7" fill="#231f20"/>
<rect x="636" y="1352" width="13" height="31" fill="#e6e7e8" stroke="none" stroke-width="0"/>
<text x="647.3" y="1367.3" font-size="14" fill="#231f20" text-anchor="middle" transform="rotate(-90 647.3 1367.3)" textLength="24" lengthAdjust="spacing">122</text>
<line x1="489.2" y1="1205" x2="489.2" y2="1212.5" stroke="#231f20" stroke-width="0.84"/>
<line x1="489.2" y1="1248" x2="489.2" y2="1264" stroke="#231f20" stroke-width="0.84"/>
<line x1="489.2" y1="1298" x2="489.2" y2="1317.3" stroke="#231f20" stroke-width="0.84"/>
<line x1="893.7" y1="1205" x2="893.7" y2="1330" stroke="#231f20" stroke-width="0.84"/>
<line x1="489.2" y1="1208" x2="893.7" y2="1208" stroke="#231f20" stroke-width="0.84"/>
<polygon points="489.2,1208 495.7,1206.75 495.7,1209.25" fill="#231f20"/>
<polygon points="893.7,1208 887.2,1206.75 887.2,1209.25" fill="#231f20"/>
<text x="687" y="1204.6" font-size="13" fill="#231f20" text-anchor="middle">L</text>
<line x1="441.2" y1="1251.7" x2="489.2" y2="1251.7" stroke="#231f20" stroke-width="0.84"/>
<polygon points="489.2,1251.7 482.7,1250.45 482.7,1252.95" fill="#231f20"/>
<line x1="489.2" y1="1251.7" x2="580.4" y2="1251.7" stroke="#231f20" stroke-width="0.84"/>
<polygon points="580.4,1251.7 573.9,1250.45 573.9,1252.95" fill="#231f20"/>
<line x1="580.4" y1="1248.5" x2="580.4" y2="1254.8" stroke="#231f20" stroke-width="0.84"/>
<line x1="580.4" y1="1251.7" x2="800.8" y2="1251.7" stroke="#231f20" stroke-width="0.84"/>
<polygon points="580.4,1251.7 586.9,1250.45 586.9,1252.95" fill="#231f20"/>
<polygon points="800.8,1251.7 794.3,1250.45 794.3,1252.95" fill="#231f20"/>
<line x1="800.8" y1="1251.7" x2="893.7" y2="1251.7" stroke="#231f20" stroke-width="0.84"/>
<polygon points="800.8,1251.7 807.3,1250.45 807.3,1252.95" fill="#231f20"/>
<polygon points="893.7,1251.7 887.2,1250.45 887.2,1252.95" fill="#231f20"/>
<text x="467.5" y="1232.8" font-size="12.6" fill="#231f20" textLength="75.8" lengthAdjust="spacing">滑台原点:124</text>
<text x="446.7" y="1242.2" font-size="11.6" fill="#8a8c8e" textLength="120" lengthAdjust="spacing">Origin of actuator:124</text>
<text x="641.6" y="1246.5" font-size="14.5" fill="#231f20" textLength="59.3" lengthAdjust="spacing">有效行程</text>
<text x="705.8" y="1246.3" font-size="11.5" fill="#8a8c8e" textLength="35" lengthAdjust="spacing">Stroke</text>
<text x="826.7" y="1245.8" font-size="14" fill="#231f20" textLength="35.8" lengthAdjust="spacing">126.5</text>
<text x="392.5" y="1282.5" font-size="12.4" fill="#231f20" textLength="114.2" lengthAdjust="spacing">滑台机械极限:45±1</text>
<text x="392.5" y="1296.7" font-size="11.6" fill="#8a8c8e" textLength="90.3" lengthAdjust="spacing">Mechanical limit:</text>
<text x="484.3" y="1296.7" font-size="11.6" fill="#8a8c8e" textLength="29.9" lengthAdjust="spacing">45±1</text>
<line x1="398" y1="1301.4" x2="537.5" y2="1301.4" stroke="#231f20" stroke-width="0.84"/>
<polygon points="489.2,1301.4 482.7,1300.15 482.7,1302.65" fill="#231f20"/>
<polygon points="522.5,1301.4 529,1300.15 529,1302.65" fill="#231f20"/>
<line x1="529.2" y1="1268.5" x2="529.2" y2="1317.3" stroke="#231f20" stroke-width="0.84"/>
<line x1="632" y1="1268.5" x2="632" y2="1317.3" stroke="#231f20" stroke-width="0.84"/>
<line x1="529.2" y1="1271.7" x2="632" y2="1271.7" stroke="#231f20" stroke-width="0.84"/>
<polygon points="529.2,1271.7 535.7,1270.45 535.7,1272.95" fill="#231f20"/>
<polygon points="632,1271.7 625.5,1270.45 625.5,1272.95" fill="#231f20"/>
<text x="580.4" y="1268.4" font-size="14" fill="#231f20" text-anchor="middle" textLength="24.5" lengthAdjust="spacing">140</text>
<line x1="535.3" y1="1285" x2="535.3" y2="1317.3" stroke="#231f20" stroke-width="0.84"/>
<line x1="625.5" y1="1285" x2="625.5" y2="1317.3" stroke="#231f20" stroke-width="0.84"/>
<line x1="535.3" y1="1288.2" x2="625.5" y2="1288.2" stroke="#231f20" stroke-width="0.84"/>
<polygon points="535.3,1288.2 541.8,1286.95 541.8,1289.45" fill="#231f20"/>
<polygon points="625.5,1288.2 619,1286.95 619,1289.45" fill="#231f20"/>
<text x="580.4" y="1285" font-size="14" fill="#231f20" text-anchor="middle" textLength="24.5" lengthAdjust="spacing">122</text>
<line x1="554.7" y1="1301" x2="554.7" y2="1317.3" stroke="#231f20" stroke-width="0.84"/>
<line x1="606.3" y1="1301" x2="606.3" y2="1317.3" stroke="#231f20" stroke-width="0.84"/>
<line x1="554.7" y1="1303.8" x2="606.3" y2="1303.8" stroke="#231f20" stroke-width="0.84"/>
<polygon points="554.7,1303.8 561.2,1302.55 561.2,1305.05" fill="#231f20"/>
<polygon points="606.3,1303.8 599.8,1302.55 599.8,1305.05" fill="#231f20"/>
<text x="580.4" y="1300.8" font-size="14" fill="#231f20" text-anchor="middle" textLength="16" lengthAdjust="spacing">70</text>
<text x="693.7" y="1285" font-size="13.5" fill="#231f20" textLength="173.3" lengthAdjust="spacing">滑台机械极限:44.5(<tspan fill="#29a9e0">46.5</tspan>)±1</text>
<text x="696.7" y="1299.8" font-size="11.6" fill="#8a8c8e" textLength="90.5" lengthAdjust="spacing">Mechanical limit:</text>
<text x="789" y="1299.8" font-size="11.6" fill="#8a8c8e" textLength="76.8" lengthAdjust="spacing">44.5(<tspan fill="#29a9e0">46.5</tspan>)±1</text>
<line x1="755" y1="1305.3" x2="906.3" y2="1305.3" stroke="#231f20" stroke-width="0.84"/>
<polygon points="859.2,1305.3 852.7,1304.05 852.7,1306.55" fill="#231f20"/>
<polygon points="893.7,1305.3 900.2,1304.05 900.2,1306.55" fill="#231f20"/>
<line x1="374.7" y1="1390" x2="374.7" y2="1466.7" stroke="#231f20" stroke-width="0.84"/>
<line x1="398.5" y1="1392.5" x2="398.5" y2="1466.7" stroke="#231f20" stroke-width="0.84"/>
<line x1="362.5" y1="1463.3" x2="374.7" y2="1463.3" stroke="#231f20" stroke-width="0.84"/>
<polygon points="374.7,1463.3 368.2,1462.05 368.2,1464.55" fill="#231f20"/>
<line x1="398.5" y1="1463.3" x2="465.8" y2="1463.3" stroke="#231f20" stroke-width="0.84"/>
<polygon points="398.5,1463.3 405,1462.05 405,1464.55" fill="#231f20"/>
<text x="408.3" y="1445" font-size="13.6" fill="#231f20" textLength="56.7" lengthAdjust="spacing">刹车:+40</text>
<text x="408.3" y="1458.7" font-size="11.6" fill="#8a8c8e" textLength="55.8" lengthAdjust="spacing">Brake:+40</text>
<text x="479.7" y="1437.5" font-size="14" fill="#231f20" letter-spacing="0.13">2-Ø6</text>
<text transform="translate(516.67 1436.6) scale(1.58 1.04)" font-family="DejaVu Sans,sans-serif" font-size="11.6" text-anchor="middle" fill="#231f20" stroke="#231f20" stroke-width="0.08">↧</text>
<text x="522.13" y="1437.5" font-size="14" fill="#231f20" letter-spacing="0.13">15 H7</text>
<path d="M476.7,1442.5 H565.8 L587.5,1395.8" fill="none" stroke="#231f20" stroke-width="0.8"/>
<text x="684.7" y="1433.3" font-size="14" fill="#231f20" letter-spacing="0.55">8-M6</text>
<text transform="translate(723.91 1432.4) scale(1.58 1.04)" font-family="DejaVu Sans,sans-serif" font-size="11.6" text-anchor="middle" fill="#231f20" stroke="#231f20" stroke-width="0.08">↧</text>
<text x="729.58" y="1433.3" font-size="14" fill="#231f20" letter-spacing="0.55">15</text>
<path d="M608.9,1404.6 L681,1436.9 H748.2" fill="none" stroke="#231f20" stroke-width="0.8"/>
<polygon points="625.5,1412 619.06,1410.48 620.08,1408.2" fill="#231f20"/>
<text x="628.9" y="1455.4" font-size="14" fill="#231f20" letter-spacing="0.53">4-M5</text>
<text transform="translate(668.04 1454.5) scale(1.58 1.04)" font-family="DejaVu Sans,sans-serif" font-size="11.6" text-anchor="middle" fill="#231f20" stroke="#231f20" stroke-width="0.08">↧</text>
<text x="673.7" y="1455.4" font-size="14" fill="#231f20" letter-spacing="0.53">10</text>
<text x="701.7" y="1474.4" font-size="13.9" fill="#231f20" textLength="96" lengthAdjust="spacing">对面同位置两孔</text>
<text x="628.7" y="1487.5" font-size="11.6" fill="#8a8c8e" textLength="252" lengthAdjust="spacing">2 holes on the same position at opposite side.</text>
<path d="M398,1515.8 H380 Q374.7,1515.8 374.7,1521 V1556 Q374.7,1561.3 380,1561.3 H398" fill="none" stroke="#231f20" stroke-width="1.03" stroke-dasharray="9 4"/>
<path d="M489.7,1515.8 H402 Q398,1515.8 398,1520 V1557 Q398,1561.3 402,1561.3 H489.7 Z" fill="#e6e7e8" stroke="#231f20" stroke-width="1.5"/>
<rect x="426.2" y="1514.2" width="3" height="48.3" fill="#eaebec" stroke="#231f20" stroke-width="1"/>
<line x1="395.8" y1="1538" x2="491.7" y2="1538" stroke="#231f20" stroke-width="0.84"/>
<rect x="402.5" y="1528.8" width="6.7" height="18.7" fill="#eaebec" stroke="#231f20" stroke-width="0.8"/>
<line x1="402.5" y1="1535" x2="409.2" y2="1535" stroke="#231f20" stroke-width="0.84"/>
<line x1="402.5" y1="1541" x2="409.2" y2="1541" stroke="#231f20" stroke-width="0.84"/>
<line x1="405.8" y1="1535" x2="405.8" y2="1541" stroke="#231f20" stroke-width="0.72"/>
<rect x="431.3" y="1528.8" width="11.2" height="18.7" fill="#eaebec" stroke="#231f20" stroke-width="0.8"/>
<circle cx="436.8" cy="1538" r="3.3" fill="#a7a9ac" stroke="#231f20" stroke-width="0.9"/>
<circle cx="436.8" cy="1538" r="1.6" fill="none" stroke="#231f20" stroke-width="0.6"/>
<path d="M489.7,1510.4 H887 Q893.8,1510.4 893.8,1517 V1560.5 Q893.8,1565.2 888,1565.2 H489.7 Z" fill="#eaebec" stroke="#231f20" stroke-width="1.4"/>
<rect x="493.8" y="1510.4" width="378" height="54.8" fill="#e6e7e8" stroke="#231f20" stroke-width="0"/>
<rect x="493.8" y="1510.4" width="382.1" height="9.3" fill="#e6e7e8" stroke="#231f20" stroke-width="0"/>
<line x1="489.7" y1="1510.4" x2="888" y2="1510.4" stroke="#231f20" stroke-width="1.5"/>
<line x1="489.7" y1="1565.2" x2="889" y2="1565.2" stroke="#231f20" stroke-width="1.6"/>
<line x1="493.8" y1="1510.4" x2="493.8" y2="1565.2" stroke="#231f20" stroke-width="1.08"/>
<path d="M875.9,1510.4 V1519.9 H871.8 V1565.2" fill="none" stroke="#231f20" stroke-width="1.03"/>
<line x1="496.7" y1="1519.5" x2="871.8" y2="1519.5" stroke="#231f20" stroke-width="1.08"/>
<line x1="496.7" y1="1519.5" x2="496.7" y2="1529.5" stroke="#231f20" stroke-width="0.96"/>
<line x1="493.8" y1="1529.5" x2="871.8" y2="1529.5" stroke="#231f20" stroke-width="1"/>
<line x1="493.8" y1="1542.2" x2="871.8" y2="1542.2" stroke="#231f20" stroke-width="1.08"/>
<line x1="493.8" y1="1544.7" x2="871.8" y2="1544.7" stroke="#231f20" stroke-width="1.08"/>
<rect x="871.8" y="1540.7" width="6.6" height="5" fill="#eaebec" stroke="#231f20" stroke-width="0.8"/>
<path d="M890.1,1532.7 L890.1,1538.7 L884.6,1535.7 Z" fill="#eaebec" stroke="#231f20" stroke-width="0.92" stroke-linejoin="round"/>
<line x1="871.8" y1="1547.5" x2="892.6" y2="1547.5" stroke="#231f20" stroke-width="0.96"/>
<line x1="871.8" y1="1555.7" x2="890.1" y2="1555.7" stroke="#231f20" stroke-width="0.96"/>
<line x1="882.9" y1="1547.5" x2="882.9" y2="1555.7" stroke="#231f20" stroke-width="0.96"/>
<line x1="889.4" y1="1547.5" x2="889.4" y2="1563.2" stroke="#231f20" stroke-width="0.96"/>
<ellipse cx="888.1" cy="1559.5" rx="1" ry="2.3" fill="none" stroke="#231f20" stroke-width="0.7"/>
<ellipse cx="488.7" cy="1515.4" rx="1.1" ry="3" fill="#6d6e70" stroke="#231f20" stroke-width="0.6"/>
<ellipse cx="488.7" cy="1537.4" rx="1.1" ry="3" fill="#6d6e70" stroke="#231f20" stroke-width="0.6"/>
<ellipse cx="488.7" cy="1559.4" rx="1.1" ry="3" fill="#6d6e70" stroke="#231f20" stroke-width="0.6"/>
<rect x="528.7" y="1507.7" width="102.8" height="20.5" fill="#e6e7e8" stroke="#231f20" stroke-width="1"/>
<line x1="528.7" y1="1507.7" x2="631.5" y2="1507.7" stroke="#231f20" stroke-width="1.8"/>
<line x1="528.7" y1="1528.8" x2="631.5" y2="1528.8" stroke="#231f20" stroke-width="1.4"/>
<rect x="554.5" y="1514.7" width="51.3" height="10.1" fill="#e6e7e8" stroke="#231f20" stroke-width="1.1"/>
<line x1="557.4" y1="1519.7" x2="566.6" y2="1519.7" stroke="#231f20" stroke-width="0.72"/>
<line x1="562" y1="1515.2" x2="562" y2="1524.3" stroke="#231f20" stroke-width="0.72"/>
<circle cx="562" cy="1519.7" r="2.9" fill="#231f20" stroke="#231f20" stroke-width="0.3"/>
<line x1="594" y1="1519.7" x2="603.2" y2="1519.7" stroke="#231f20" stroke-width="0.72"/>
<line x1="598.6" y1="1515.2" x2="598.6" y2="1524.3" stroke="#231f20" stroke-width="0.72"/>
<circle cx="598.6" cy="1519.7" r="2.9" fill="#231f20" stroke="#231f20" stroke-width="0.3"/>
<path d="M575.3,1524.8 V1536.4 H585.8 V1524.8" fill="none" stroke="#231f20" stroke-width="1"/>
<rect x="567.5" y="1531.5" width="5.3" height="28.9" fill="#eaebec" stroke="#231f20" stroke-width="1"/>
<rect x="586.3" y="1531.5" width="5.4" height="28.9" fill="#eaebec" stroke="#231f20" stroke-width="1"/>
<rect x="804.5" y="1531.5" width="5.3" height="28.9" fill="#eaebec" stroke="#231f20" stroke-width="1"/>
<rect x="560.3" y="1540.8" width="4.4" height="5" fill="#3a3a3c" stroke="#231f20" stroke-width="0.6"/>
<rect x="575.3" y="1540.8" width="8" height="5" fill="#3a3a3c" stroke="#231f20" stroke-width="0.6"/>
<rect x="594.2" y="1540.8" width="4.6" height="5" fill="#3a3a3c" stroke="#231f20" stroke-width="0.6"/>
<rect x="797.5" y="1540.8" width="4.7" height="5" fill="#3a3a3c" stroke="#231f20" stroke-width="0.6"/>
<rect x="812.3" y="1540.8" width="4.7" height="5" fill="#3a3a3c" stroke="#231f20" stroke-width="0.6"/>
<text x="543.3" y="1489.7" font-size="14" fill="#231f20" textLength="15" lengthAdjust="spacing">17</text>
<line x1="541.7" y1="1493" x2="557.5" y2="1493" stroke="#231f20" stroke-width="0.84"/>
<line x1="541.7" y1="1493" x2="541.7" y2="1535" stroke="#231f20" stroke-width="0.84"/>
<polygon points="541.7,1507.6 540.45,1501.1 542.95,1501.1" fill="#231f20"/>
<polygon points="541.7,1519.7 540.45,1526.2 542.95,1526.2" fill="#231f20"/>
<line x1="539" y1="1519.7" x2="554" y2="1519.7" stroke="#231f20" stroke-width="0.84"/>
<line x1="562" y1="1489" x2="562" y2="1516" stroke="#231f20" stroke-width="0.84"/>
<line x1="598.6" y1="1489" x2="598.6" y2="1516" stroke="#231f20" stroke-width="0.84"/>
<line x1="562" y1="1493" x2="598.6" y2="1493" stroke="#231f20" stroke-width="0.84"/>
<polygon points="562,1493 568.5,1491.75 568.5,1494.25" fill="#231f20"/>
<polygon points="598.6,1493 592.1,1491.75 592.1,1494.25" fill="#231f20"/>
<text x="580.3" y="1489.7" font-size="14" fill="#231f20" text-anchor="middle" textLength="15.8" lengthAdjust="spacing">50</text>
<path d="M880.7,1493.9 H625.4 L587.3,1530" fill="none" stroke="#231f20" stroke-width="0.8"/>
<path d="M397.5,1652.2 H380 Q374.7,1652.2 374.7,1657.5 V1692.7 Q374.7,1698 380,1698 H397.5" fill="none" stroke="#231f20" stroke-width="1.03" stroke-dasharray="9 4"/>
<path d="M489.2,1652.2 H401.5 Q397.5,1652.2 397.5,1656 V1694 Q397.5,1698 401.5,1698 H489.2 Z" fill="#e6e7e8" stroke="#231f20" stroke-width="1.5"/>
<rect x="426.2" y="1650.8" width="2.7" height="48.7" fill="#eaebec" stroke="#231f20" stroke-width="1"/>
<line x1="397.5" y1="1675.1" x2="426.2" y2="1675.1" stroke="#231f20" stroke-width="0.96"/>
<rect x="403.3" y="1641" width="5.9" height="11.2" fill="#eaebec" stroke="#231f20" stroke-width="1"/>
<rect x="404.3" y="1634.2" width="3.9" height="6.8" fill="#eaebec" stroke="#231f20" stroke-width="1"/>
<rect x="430" y="1649.2" width="13.3" height="3" fill="#eaebec" stroke="#231f20" stroke-width="1"/>
<rect x="432.5" y="1642.5" width="8.7" height="6.7" fill="#eaebec" stroke="#231f20" stroke-width="1"/>
<rect x="434.6" y="1615.3" width="5" height="27.2" fill="#d1d3d4" stroke="#231f20" stroke-width="1.3"/>
<path d="M489.2,1625.5 H884 Q893.2,1625.5 893.7,1640 Q895.1,1675.1 893.7,1710 Q893.2,1724.7 884,1724.7 H489.2 Z" fill="#eaebec" stroke="#231f20" stroke-width="1.7"/>
<path d="M494.2,1625.5 H871.1 V1636.2 Q871.1,1640.5 875.5,1640.5 H889.5 V1709.7 H875.5 Q871.1,1709.7 871.1,1714 V1724.7 H494.2 Z" fill="#e6e7e8" stroke="#231f20" stroke-width="1.03"/>
<line x1="489.2" y1="1625.5" x2="885" y2="1625.5" stroke="#231f20" stroke-width="1.7"/>
<line x1="489.2" y1="1724.7" x2="885" y2="1724.7" stroke="#231f20" stroke-width="1.7"/>
<ellipse cx="488.2" cy="1631" rx="1.2" ry="3.3" fill="#6d6e70" stroke="#231f20" stroke-width="0.6"/>
<ellipse cx="488.2" cy="1718.5" rx="1.2" ry="3.3" fill="#6d6e70" stroke="#231f20" stroke-width="0.6"/>
<line x1="494.2" y1="1650.5" x2="889.5" y2="1650.5" stroke="#231f20" stroke-width="1.08"/>
<line x1="494.2" y1="1699.5" x2="889.5" y2="1699.5" stroke="#231f20" stroke-width="1.08"/>
<line x1="432" y1="1675.1" x2="892" y2="1675.1" stroke="#4d4d4f" stroke-width="1.25" stroke-dasharray="40 6 10 6"/>
<line x1="498.9" y1="1636.4" x2="507.7" y2="1636.4" stroke="#231f20" stroke-width="0.9"/>
<line x1="503.3" y1="1632" x2="503.3" y2="1640.8" stroke="#231f20" stroke-width="0.9"/>
<circle cx="503.3" cy="1636.4" r="2.4" fill="#8a8c8e" stroke="#231f20" stroke-width="1.1"/>
<line x1="500.9" y1="1636.4" x2="505.7" y2="1636.4" stroke="#231f20" stroke-width="0.6"/>
<line x1="503.3" y1="1634" x2="503.3" y2="1638.8" stroke="#231f20" stroke-width="0.6"/>
<line x1="506.6" y1="1636.4" x2="515" y2="1636.4" stroke="#231f20" stroke-width="0.9"/>
<line x1="510.8" y1="1632.2" x2="510.8" y2="1640.6" stroke="#231f20" stroke-width="0.9"/>
<circle cx="510.8" cy="1636.4" r="2.2" fill="#231f20" stroke="#231f20" stroke-width="0.4"/>
<line x1="498.9" y1="1714.2" x2="507.7" y2="1714.2" stroke="#231f20" stroke-width="0.9"/>
<line x1="503.3" y1="1709.8" x2="503.3" y2="1718.6" stroke="#231f20" stroke-width="0.9"/>
<circle cx="503.3" cy="1714.2" r="2.4" fill="#8a8c8e" stroke="#231f20" stroke-width="1.1"/>
<line x1="500.9" y1="1714.2" x2="505.7" y2="1714.2" stroke="#231f20" stroke-width="0.6"/>
<line x1="503.3" y1="1711.8" x2="503.3" y2="1716.6" stroke="#231f20" stroke-width="0.6"/>
<line x1="506.6" y1="1714.2" x2="515" y2="1714.2" stroke="#231f20" stroke-width="0.9"/>
<line x1="510.8" y1="1710" x2="510.8" y2="1718.4" stroke="#231f20" stroke-width="0.9"/>
<circle cx="510.8" cy="1714.2" r="2.2" fill="#231f20" stroke="#231f20" stroke-width="0.4"/>
<line x1="645.6" y1="1636.4" x2="654.4" y2="1636.4" stroke="#231f20" stroke-width="0.9"/>
<line x1="650" y1="1632" x2="650" y2="1640.8" stroke="#231f20" stroke-width="0.9"/>
<circle cx="650" cy="1636.4" r="2.4" fill="#8a8c8e" stroke="#231f20" stroke-width="1.1"/>
<line x1="647.6" y1="1636.4" x2="652.4" y2="1636.4" stroke="#231f20" stroke-width="0.6"/>
<line x1="650" y1="1634" x2="650" y2="1638.8" stroke="#231f20" stroke-width="0.6"/>
<line x1="653.4" y1="1636.4" x2="661.8" y2="1636.4" stroke="#231f20" stroke-width="0.9"/>
<line x1="657.6" y1="1632.2" x2="657.6" y2="1640.6" stroke="#231f20" stroke-width="0.9"/>
<circle cx="657.6" cy="1636.4" r="2.2" fill="#231f20" stroke="#231f20" stroke-width="0.4"/>
<line x1="645.6" y1="1714.2" x2="654.4" y2="1714.2" stroke="#231f20" stroke-width="0.9"/>
<line x1="650" y1="1709.8" x2="650" y2="1718.6" stroke="#231f20" stroke-width="0.9"/>
<circle cx="650" cy="1714.2" r="2.4" fill="#8a8c8e" stroke="#231f20" stroke-width="1.1"/>
<line x1="647.6" y1="1714.2" x2="652.4" y2="1714.2" stroke="#231f20" stroke-width="0.6"/>
<line x1="650" y1="1711.8" x2="650" y2="1716.6" stroke="#231f20" stroke-width="0.6"/>
<line x1="653.4" y1="1714.2" x2="661.8" y2="1714.2" stroke="#231f20" stroke-width="0.9"/>
<line x1="657.6" y1="1710" x2="657.6" y2="1718.4" stroke="#231f20" stroke-width="0.9"/>
<circle cx="657.6" cy="1714.2" r="2.2" fill="#231f20" stroke="#231f20" stroke-width="0.4"/>
<line x1="792.4" y1="1636.4" x2="801.2" y2="1636.4" stroke="#231f20" stroke-width="0.9"/>
<line x1="796.8" y1="1632" x2="796.8" y2="1640.8" stroke="#231f20" stroke-width="0.9"/>
<circle cx="796.8" cy="1636.4" r="2.4" fill="#8a8c8e" stroke="#231f20" stroke-width="1.1"/>
<line x1="794.4" y1="1636.4" x2="799.2" y2="1636.4" stroke="#231f20" stroke-width="0.6"/>
<line x1="796.8" y1="1634" x2="796.8" y2="1638.8" stroke="#231f20" stroke-width="0.6"/>
<line x1="800.5" y1="1636.4" x2="808.9" y2="1636.4" stroke="#231f20" stroke-width="0.9"/>
<line x1="804.7" y1="1632.2" x2="804.7" y2="1640.6" stroke="#231f20" stroke-width="0.9"/>
<circle cx="804.7" cy="1636.4" r="2.2" fill="#231f20" stroke="#231f20" stroke-width="0.4"/>
<line x1="792.4" y1="1714.2" x2="801.2" y2="1714.2" stroke="#231f20" stroke-width="0.9"/>
<line x1="796.8" y1="1709.8" x2="796.8" y2="1718.6" stroke="#231f20" stroke-width="0.9"/>
<circle cx="796.8" cy="1714.2" r="2.4" fill="#8a8c8e" stroke="#231f20" stroke-width="1.1"/>
<line x1="794.4" y1="1714.2" x2="799.2" y2="1714.2" stroke="#231f20" stroke-width="0.6"/>
<line x1="796.8" y1="1711.8" x2="796.8" y2="1716.6" stroke="#231f20" stroke-width="0.6"/>
<line x1="800.5" y1="1714.2" x2="808.9" y2="1714.2" stroke="#231f20" stroke-width="0.9"/>
<line x1="804.7" y1="1710" x2="804.7" y2="1718.4" stroke="#231f20" stroke-width="0.9"/>
<circle cx="804.7" cy="1714.2" r="2.2" fill="#231f20" stroke="#231f20" stroke-width="0.4"/>
<line x1="829" y1="1636.4" x2="837.8" y2="1636.4" stroke="#231f20" stroke-width="0.9"/>
<line x1="833.4" y1="1632" x2="833.4" y2="1640.8" stroke="#231f20" stroke-width="0.9"/>
<circle cx="833.4" cy="1636.4" r="2.4" fill="#8a8c8e" stroke="#231f20" stroke-width="1.1"/>
<line x1="831" y1="1636.4" x2="835.8" y2="1636.4" stroke="#231f20" stroke-width="0.6"/>
<line x1="833.4" y1="1634" x2="833.4" y2="1638.8" stroke="#231f20" stroke-width="0.6"/>
<line x1="837" y1="1636.4" x2="845.4" y2="1636.4" stroke="#231f20" stroke-width="0.9"/>
<line x1="841.2" y1="1632.2" x2="841.2" y2="1640.6" stroke="#231f20" stroke-width="0.9"/>
<circle cx="841.2" cy="1636.4" r="2.2" fill="#231f20" stroke="#231f20" stroke-width="0.4"/>
<line x1="829" y1="1714.2" x2="837.8" y2="1714.2" stroke="#231f20" stroke-width="0.9"/>
<line x1="833.4" y1="1709.8" x2="833.4" y2="1718.6" stroke="#231f20" stroke-width="0.9"/>
<circle cx="833.4" cy="1714.2" r="2.4" fill="#8a8c8e" stroke="#231f20" stroke-width="1.1"/>
<line x1="831" y1="1714.2" x2="835.8" y2="1714.2" stroke="#231f20" stroke-width="0.6"/>
<line x1="833.4" y1="1711.8" x2="833.4" y2="1716.6" stroke="#231f20" stroke-width="0.6"/>
<line x1="837" y1="1714.2" x2="845.4" y2="1714.2" stroke="#231f20" stroke-width="0.9"/>
<line x1="841.2" y1="1710" x2="841.2" y2="1718.4" stroke="#231f20" stroke-width="0.9"/>
<circle cx="841.2" cy="1714.2" r="2.2" fill="#231f20" stroke="#231f20" stroke-width="0.4"/>
<line x1="489.2" y1="1597" x2="489.2" y2="1625.5" stroke="#231f20" stroke-width="0.84"/>
<line x1="503.3" y1="1597" x2="503.3" y2="1632" stroke="#231f20" stroke-width="0.84"/>
<line x1="796.8" y1="1597" x2="796.8" y2="1632" stroke="#231f20" stroke-width="1.1"/>
<line x1="833.4" y1="1597" x2="833.4" y2="1632" stroke="#231f20" stroke-width="1.1"/>
<line x1="893.8" y1="1597" x2="893.8" y2="1640" stroke="#231f20" stroke-width="0.84"/>
<line x1="474.7" y1="1599.8" x2="489.2" y2="1599.8" stroke="#231f20" stroke-width="0.84"/>
<polygon points="489.2,1599.8 482.7,1598.55 482.7,1601.05" fill="#231f20"/>
<line x1="489.2" y1="1599.8" x2="503.3" y2="1599.8" stroke="#231f20" stroke-width="0.84"/>
<line x1="503.3" y1="1599.8" x2="796.8" y2="1599.8" stroke="#231f20" stroke-width="0.84"/>
<polygon points="503.3,1599.8 509.8,1598.55 509.8,1601.05" fill="#231f20"/>
<polygon points="796.8,1599.8 790.3,1598.55 790.3,1601.05" fill="#231f20"/>
<line x1="796.8" y1="1599.8" x2="833.4" y2="1599.8" stroke="#231f20" stroke-width="0.84"/>
<polygon points="796.8,1599.8 803.3,1598.55 803.3,1601.05" fill="#231f20"/>
<polygon points="833.4,1599.8 826.9,1598.55 826.9,1601.05" fill="#231f20"/>
<line x1="833.4" y1="1599.8" x2="893.8" y2="1599.8" stroke="#231f20" stroke-width="0.84"/>
<polygon points="833.4,1599.8 839.9,1598.55 839.9,1601.05" fill="#231f20"/>
<polygon points="893.8,1599.8 887.3,1598.55 887.3,1601.05" fill="#231f20"/>
<text x="489.2" y="1595.3" font-size="14" fill="#231f20" textLength="15" lengthAdjust="spacing">19</text>
<text x="645.7" y="1595.3" font-size="14" fill="#231f20" textLength="44.3" lengthAdjust="spacing">M*200</text>
<text x="814.5" y="1596" font-size="14" fill="#231f20" text-anchor="middle">A</text>
<text x="850.4" y="1596" font-size="14" fill="#231f20" textLength="28.6" lengthAdjust="spacing">81.5</text>
<line x1="489.2" y1="1726.7" x2="489.2" y2="1762.5" stroke="#231f20" stroke-width="0.84"/>
<line x1="510.8" y1="1720" x2="510.8" y2="1762.5" stroke="#231f20" stroke-width="1.1"/>
<line x1="804.7" y1="1719" x2="804.7" y2="1762.5" stroke="#231f20" stroke-width="1.1"/>
<line x1="841.2" y1="1719" x2="841.2" y2="1762.5" stroke="#231f20" stroke-width="1.1"/>
<line x1="893.8" y1="1715" x2="893.8" y2="1762.5" stroke="#231f20" stroke-width="0.84"/>
<line x1="474.7" y1="1759.5" x2="489.2" y2="1759.5" stroke="#231f20" stroke-width="0.84"/>
<polygon points="489.2,1759.5 482.7,1758.25 482.7,1760.75" fill="#231f20"/>
<line x1="489.2" y1="1759.5" x2="510.8" y2="1759.5" stroke="#231f20" stroke-width="0.84"/>
<line x1="510.8" y1="1759.5" x2="804.7" y2="1759.5" stroke="#231f20" stroke-width="0.84"/>
<polygon points="510.8,1759.5 517.3,1758.25 517.3,1760.75" fill="#231f20"/>
<polygon points="804.7,1759.5 798.2,1758.25 798.2,1760.75" fill="#231f20"/>
<line x1="804.7" y1="1759.5" x2="841.2" y2="1759.5" stroke="#231f20" stroke-width="0.84"/>
<polygon points="804.7,1759.5 811.2,1758.25 811.2,1760.75" fill="#231f20"/>
<polygon points="841.2,1759.5 834.7,1758.25 834.7,1760.75" fill="#231f20"/>
<line x1="841.2" y1="1759.5" x2="893.8" y2="1759.5" stroke="#231f20" stroke-width="0.84"/>
<polygon points="841.2,1759.5 847.7,1758.25 847.7,1760.75" fill="#231f20"/>
<polygon points="893.8,1759.5 887.3,1758.25 887.3,1760.75" fill="#231f20"/>
<text x="491.7" y="1756.7" font-size="14" fill="#231f20" textLength="15.8" lengthAdjust="spacing">29</text>
<text x="635.5" y="1756" font-size="14" fill="#231f20" textLength="44.5" lengthAdjust="spacing">M*200</text>
<text x="823" y="1756.6" font-size="14" fill="#231f20" text-anchor="middle">A</text>
<text x="855.3" y="1756.6" font-size="14" fill="#231f20" textLength="27.7" lengthAdjust="spacing">71.5</text>
<line x1="848" y1="1636.4" x2="916.6" y2="1636.4" stroke="#231f20" stroke-width="0.84"/>
<line x1="848" y1="1714.2" x2="916.6" y2="1714.2" stroke="#231f20" stroke-width="0.84"/>
<line x1="913.7" y1="1636.4" x2="913.7" y2="1714.2" stroke="#231f20" stroke-width="0.84"/>
<polygon points="913.7,1636.4 912.45,1642.9 914.95,1642.9" fill="#231f20"/>
<polygon points="913.7,1714.2 912.45,1707.7 914.95,1707.7" fill="#231f20"/>
<text x="910.3" y="1675.1" font-size="14" fill="#231f20" text-anchor="middle" transform="rotate(-90 910.3 1675.1)" textLength="24" lengthAdjust="spacing">106</text>
<line x1="893.8" y1="1625.5" x2="934.6" y2="1625.5" stroke="#231f20" stroke-width="0.84"/>
<line x1="893.8" y1="1724.7" x2="934.6" y2="1724.7" stroke="#231f20" stroke-width="0.84"/>
<line x1="931.3" y1="1625.5" x2="931.3" y2="1724.7" stroke="#231f20" stroke-width="0.84"/>
<polygon points="931.3,1625.5 930.05,1632 932.55,1632" fill="#231f20"/>
<polygon points="931.3,1724.7 930.05,1718.2 932.55,1718.2" fill="#231f20"/>
<text x="928.2" y="1675.1" font-size="14" fill="#231f20" text-anchor="middle" transform="rotate(-90 928.2 1675.1)" textLength="24" lengthAdjust="spacing">135</text>
<text x="513" y="1616.3" font-size="14" fill="#231f20" textLength="32" lengthAdjust="spacing">N-Ø7</text>
<path d="M545,1618.4 H510 L495.8,1651.7" fill="none" stroke="#231f20" stroke-width="0.8"/>
<polygon points="504.6,1631 506,1624.53 508.3,1625.51" fill="#231f20"/>
<text x="553.8" y="1738.3" font-size="14" fill="#231f20" letter-spacing="0.16">N-M6</text>
<text transform="translate(593.99 1737.4) scale(1.58 1.04)" font-family="DejaVu Sans,sans-serif" font-size="11.6" text-anchor="middle" fill="#231f20" stroke="#231f20" stroke-width="0.08">↧</text>
<text x="599.47" y="1738.3" font-size="14" fill="#231f20" letter-spacing="0.16">10</text>
<path d="M616.5,1741.7 H550 L496.7,1704.2" fill="none" stroke="#231f20" stroke-width="0.8"/>
<polygon points="513.5,1716 519.54,1718.72 518.1,1720.76" fill="#231f20"/>
<rect x="54" y="937.3" width="1150.75" height="44.8" fill="#4a9f8e"/>
<rect x="54" y="982.1" width="91.3" height="87.9" fill="#cbe7df"/>
<line x1="54" y1="937.3" x2="1204.75" y2="937.3" stroke="#2b2b2b" stroke-width="1.2"/>
<line x1="54" y1="982.1" x2="1204.75" y2="982.1" stroke="#2b2b2b" stroke-width="1.15"/>
<line x1="54" y1="999.68" x2="1204.75" y2="999.68" stroke="#2b2b2b" stroke-width="1.15"/>
<line x1="54" y1="1017.26" x2="1204.75" y2="1017.26" stroke="#2b2b2b" stroke-width="1.15"/>
<line x1="54" y1="1034.84" x2="1204.75" y2="1034.84" stroke="#2b2b2b" stroke-width="1.15"/>
<line x1="54" y1="1052.42" x2="1204.75" y2="1052.42" stroke="#2b2b2b" stroke-width="1.15"/>
<line x1="54" y1="1070" x2="1204.75" y2="1070" stroke="#2b2b2b" stroke-width="1.15"/>
<line x1="145.3" y1="937.3" x2="145.3" y2="1070" stroke="#2b2b2b" stroke-width="1.15"/>
<line x1="195.75" y1="937.3" x2="195.75" y2="1070" stroke="#2b2b2b" stroke-width="1.15"/>
<line x1="246.2" y1="937.3" x2="246.2" y2="1070" stroke="#2b2b2b" stroke-width="1.15"/>
<line x1="296.65" y1="937.3" x2="296.65" y2="1070" stroke="#2b2b2b" stroke-width="1.15"/>
<line x1="347.1" y1="937.3" x2="347.1" y2="1070" stroke="#2b2b2b" stroke-width="1.15"/>
<line x1="397.55" y1="937.3" x2="397.55" y2="1070" stroke="#2b2b2b" stroke-width="1.15"/>
<line x1="448" y1="937.3" x2="448" y2="1070" stroke="#2b2b2b" stroke-width="1.15"/>
<line x1="498.45" y1="937.3" x2="498.45" y2="1070" stroke="#2b2b2b" stroke-width="1.15"/>
<line x1="548.9" y1="937.3" x2="548.9" y2="1070" stroke="#2b2b2b" stroke-width="1.15"/>
<line x1="599.35" y1="937.3" x2="599.35" y2="1070" stroke="#2b2b2b" stroke-width="1.15"/>
<line x1="649.8" y1="937.3" x2="649.8" y2="1070" stroke="#2b2b2b" stroke-width="1.15"/>
<line x1="700.25" y1="937.3" x2="700.25" y2="1070" stroke="#2b2b2b" stroke-width="1.15"/>
<line x1="750.7" y1="937.3" x2="750.7" y2="1070" stroke="#2b2b2b" stroke-width="1.15"/>
<line x1="801.15" y1="937.3" x2="801.15" y2="1070" stroke="#2b2b2b" stroke-width="1.15"/>
<line x1="851.6" y1="937.3" x2="851.6" y2="1070" stroke="#2b2b2b" stroke-width="1.15"/>
<line x1="902.05" y1="937.3" x2="902.05" y2="1070" stroke="#2b2b2b" stroke-width="1.15"/>
<line x1="952.5" y1="937.3" x2="952.5" y2="1070" stroke="#2b2b2b" stroke-width="1.15"/>
<line x1="1002.95" y1="937.3" x2="1002.95" y2="1070" stroke="#2b2b2b" stroke-width="1.15"/>
<line x1="1053.4" y1="937.3" x2="1053.4" y2="1070" stroke="#2b2b2b" stroke-width="1.15"/>
<line x1="1103.85" y1="937.3" x2="1103.85" y2="1070" stroke="#2b2b2b" stroke-width="1.15"/>
<line x1="1154.3" y1="937.3" x2="1154.3" y2="1070" stroke="#2b2b2b" stroke-width="1.15"/>
<text x="99.65" y="957.9" font-size="17" fill="#fff" text-anchor="middle">有效行程</text>
<text x="99.65" y="975.6" font-size="15" fill="#fff" text-anchor="middle">stroke</text>
<text x="170.53" y="965.6" font-size="14" fill="#fff" text-anchor="middle">50</text>
<text x="220.98" y="965.6" font-size="14" fill="#fff" text-anchor="middle">100</text>
<text x="271.43" y="965.6" font-size="14" fill="#fff" text-anchor="middle">150</text>
<text x="321.88" y="965.6" font-size="14" fill="#fff" text-anchor="middle">200</text>
<text x="372.33" y="965.6" font-size="14" fill="#fff" text-anchor="middle">250</text>
<text x="422.78" y="965.6" font-size="14" fill="#fff" text-anchor="middle">300</text>
<text x="473.23" y="965.6" font-size="14" fill="#fff" text-anchor="middle">350</text>
<text x="523.67" y="965.6" font-size="14" fill="#fff" text-anchor="middle">400</text>
<text x="574.12" y="965.6" font-size="14" fill="#fff" text-anchor="middle">450</text>
<text x="624.58" y="965.6" font-size="14" fill="#fff" text-anchor="middle">500</text>
<text x="675.03" y="965.6" font-size="14" fill="#fff" text-anchor="middle">550</text>
<text x="725.48" y="965.6" font-size="14" fill="#fff" text-anchor="middle">600</text>
<text x="775.92" y="965.6" font-size="14" fill="#fff" text-anchor="middle">650</text>
<text x="826.38" y="965.6" font-size="14" fill="#fff" text-anchor="middle">700</text>
<text x="876.83" y="965.6" font-size="14" fill="#fff" text-anchor="middle">750</text>
<text x="927.28" y="965.6" font-size="14" fill="#fff" text-anchor="middle">800</text>
<text x="977.73" y="965.6" font-size="14" fill="#fff" text-anchor="middle">850</text>
<text x="1028.17" y="965.6" font-size="14" fill="#fff" text-anchor="middle">900</text>
<text x="1078.62" y="965.6" font-size="14" fill="#fff" text-anchor="middle">950</text>
<text x="1129.08" y="965.6" font-size="14" fill="#fff" text-anchor="middle">1000</text>
<text x="1179.53" y="965.6" font-size="14" fill="#fff" text-anchor="middle">1050</text>
<text x="99.65" y="997.1" font-size="13.3" fill="#231f20" text-anchor="middle">L</text>
<text x="170.53" y="997.1" font-size="13.6" fill="#231f20" text-anchor="middle">440</text>
<text x="220.98" y="997.1" font-size="13.6" fill="#231f20" text-anchor="middle">490</text>
<text x="271.43" y="997.1" font-size="13.6" fill="#231f20" text-anchor="middle">540</text>
<text x="321.88" y="997.1" font-size="13.6" fill="#231f20" text-anchor="middle">590</text>
<text x="372.33" y="997.1" font-size="13.6" fill="#231f20" text-anchor="middle">640</text>
<text x="422.78" y="997.1" font-size="13.6" fill="#231f20" text-anchor="middle">690</text>
<text x="473.23" y="997.1" font-size="13.6" fill="#231f20" text-anchor="middle">740</text>
<text x="523.67" y="997.1" font-size="13.6" fill="#231f20" text-anchor="middle">790</text>
<text x="574.12" y="997.1" font-size="13.6" fill="#231f20" text-anchor="middle">840</text>
<text x="624.58" y="997.1" font-size="13.6" fill="#231f20" text-anchor="middle">890</text>
<text x="675.03" y="997.1" font-size="13.6" fill="#231f20" text-anchor="middle">940</text>
<text x="725.48" y="997.1" font-size="13.6" fill="#231f20" text-anchor="middle">990</text>
<text x="775.92" y="997.1" font-size="13.6" fill="#231f20" text-anchor="middle">1040</text>
<text x="826.38" y="997.1" font-size="13.6" fill="#231f20" text-anchor="middle">1090</text>
<text x="876.83" y="997.1" font-size="13.6" fill="#231f20" text-anchor="middle">1140</text>
<text x="927.28" y="997.1" font-size="13.6" fill="#231f20" text-anchor="middle">1190</text>
<text x="977.73" y="997.1" font-size="13.6" fill="#231f20" text-anchor="middle">1240</text>
<text x="1028.17" y="997.1" font-size="13.6" fill="#231f20" text-anchor="middle">1290</text>
<text x="1078.62" y="997.1" font-size="13.6" fill="#231f20" text-anchor="middle">1340</text>
<text x="1129.08" y="997.1" font-size="13.6" fill="#231f20" text-anchor="middle">1390</text>
<text x="1179.53" y="997.1" font-size="13.6" fill="#231f20" text-anchor="middle">1440</text>
<text x="99.65" y="1014.68" font-size="13.3" fill="#231f20" text-anchor="middle">A</text>
<text x="170.53" y="1014.68" font-size="13.6" fill="#231f20" text-anchor="middle">200</text>
<text x="220.98" y="1014.68" font-size="13.6" fill="#231f20" text-anchor="middle">50</text>
<text x="271.43" y="1014.68" font-size="13.6" fill="#231f20" text-anchor="middle">100</text>
<text x="321.88" y="1014.68" font-size="13.6" fill="#231f20" text-anchor="middle">150</text>
<text x="372.33" y="1014.68" font-size="13.6" fill="#231f20" text-anchor="middle">200</text>
<text x="422.78" y="1014.68" font-size="13.6" fill="#231f20" text-anchor="middle">50</text>
<text x="473.23" y="1014.68" font-size="13.6" fill="#231f20" text-anchor="middle">100</text>
<text x="523.67" y="1014.68" font-size="13.6" fill="#231f20" text-anchor="middle">150</text>
<text x="574.12" y="1014.68" font-size="13.6" fill="#231f20" text-anchor="middle">200</text>
<text x="624.58" y="1014.68" font-size="13.6" fill="#231f20" text-anchor="middle">50</text>
<text x="675.03" y="1014.68" font-size="13.6" fill="#231f20" text-anchor="middle">100</text>
<text x="725.48" y="1014.68" font-size="13.6" fill="#231f20" text-anchor="middle">150</text>
<text x="775.92" y="1014.68" font-size="13.6" fill="#231f20" text-anchor="middle">200</text>
<text x="826.38" y="1014.68" font-size="13.6" fill="#231f20" text-anchor="middle">50</text>
<text x="876.83" y="1014.68" font-size="13.6" fill="#231f20" text-anchor="middle">100</text>
<text x="927.28" y="1014.68" font-size="13.6" fill="#231f20" text-anchor="middle">150</text>
<text x="977.73" y="1014.68" font-size="13.6" fill="#231f20" text-anchor="middle">200</text>
<text x="1028.17" y="1014.68" font-size="13.6" fill="#231f20" text-anchor="middle">50</text>
<text x="1078.62" y="1014.68" font-size="13.6" fill="#231f20" text-anchor="middle">100</text>
<text x="1129.08" y="1014.68" font-size="13.6" fill="#231f20" text-anchor="middle">150</text>
<text x="1179.53" y="1014.68" font-size="13.6" fill="#231f20" text-anchor="middle">200</text>
<text x="99.65" y="1032.26" font-size="13.3" fill="#231f20" text-anchor="middle">M</text>
<text x="170.53" y="1032.26" font-size="13.6" fill="#231f20" text-anchor="middle">0</text>
<text x="220.98" y="1032.26" font-size="13.6" fill="#231f20" text-anchor="middle">1</text>
<text x="271.43" y="1032.26" font-size="13.6" fill="#231f20" text-anchor="middle">1</text>
<text x="321.88" y="1032.26" font-size="13.6" fill="#231f20" text-anchor="middle">1</text>
<text x="372.33" y="1032.26" font-size="13.6" fill="#231f20" text-anchor="middle">1</text>
<text x="422.78" y="1032.26" font-size="13.6" fill="#231f20" text-anchor="middle">2</text>
<text x="473.23" y="1032.26" font-size="13.6" fill="#231f20" text-anchor="middle">2</text>
<text x="523.67" y="1032.26" font-size="13.6" fill="#231f20" text-anchor="middle">2</text>
<text x="574.12" y="1032.26" font-size="13.6" fill="#231f20" text-anchor="middle">2</text>
<text x="624.58" y="1032.26" font-size="13.6" fill="#231f20" text-anchor="middle">3</text>
<text x="675.03" y="1032.26" font-size="13.6" fill="#231f20" text-anchor="middle">3</text>
<text x="725.48" y="1032.26" font-size="13.6" fill="#231f20" text-anchor="middle">3</text>
<text x="775.92" y="1032.26" font-size="13.6" fill="#231f20" text-anchor="middle">3</text>
<text x="826.38" y="1032.26" font-size="13.6" fill="#231f20" text-anchor="middle">4</text>
<text x="876.83" y="1032.26" font-size="13.6" fill="#231f20" text-anchor="middle">4</text>
<text x="927.28" y="1032.26" font-size="13.6" fill="#231f20" text-anchor="middle">4</text>
<text x="977.73" y="1032.26" font-size="13.6" fill="#231f20" text-anchor="middle">4</text>
<text x="1028.17" y="1032.26" font-size="13.6" fill="#231f20" text-anchor="middle">5</text>
<text x="1078.62" y="1032.26" font-size="13.6" fill="#231f20" text-anchor="middle">5</text>
<text x="1129.08" y="1032.26" font-size="13.6" fill="#231f20" text-anchor="middle">5</text>
<text x="1179.53" y="1032.26" font-size="13.6" fill="#231f20" text-anchor="middle">5</text>
<text x="99.65" y="1049.84" font-size="13.3" fill="#231f20" text-anchor="middle">N</text>
<text x="170.53" y="1049.84" font-size="13.6" fill="#231f20" text-anchor="middle">4</text>
<text x="220.98" y="1049.84" font-size="13.6" fill="#231f20" text-anchor="middle">6</text>
<text x="271.43" y="1049.84" font-size="13.6" fill="#231f20" text-anchor="middle">6</text>
<text x="321.88" y="1049.84" font-size="13.6" fill="#231f20" text-anchor="middle">6</text>
<text x="372.33" y="1049.84" font-size="13.6" fill="#231f20" text-anchor="middle">6</text>
<text x="422.78" y="1049.84" font-size="13.6" fill="#231f20" text-anchor="middle">8</text>
<text x="473.23" y="1049.84" font-size="13.6" fill="#231f20" text-anchor="middle">8</text>
<text x="523.67" y="1049.84" font-size="13.6" fill="#231f20" text-anchor="middle">8</text>
<text x="574.12" y="1049.84" font-size="13.6" fill="#231f20" text-anchor="middle">8</text>
<text x="624.58" y="1049.84" font-size="13.6" fill="#231f20" text-anchor="middle">10</text>
<text x="675.03" y="1049.84" font-size="13.6" fill="#231f20" text-anchor="middle">10</text>
<text x="725.48" y="1049.84" font-size="13.6" fill="#231f20" text-anchor="middle">10</text>
<text x="775.92" y="1049.84" font-size="13.6" fill="#231f20" text-anchor="middle">10</text>
<text x="826.38" y="1049.84" font-size="13.6" fill="#231f20" text-anchor="middle">12</text>
<text x="876.83" y="1049.84" font-size="13.6" fill="#231f20" text-anchor="middle">12</text>
<text x="927.28" y="1049.84" font-size="13.6" fill="#231f20" text-anchor="middle">12</text>
<text x="977.73" y="1049.84" font-size="13.6" fill="#231f20" text-anchor="middle">12</text>
<text x="1028.17" y="1049.84" font-size="13.6" fill="#231f20" text-anchor="middle">14</text>
<text x="1078.62" y="1049.84" font-size="13.6" fill="#231f20" text-anchor="middle">14</text>
<text x="1129.08" y="1049.84" font-size="13.6" fill="#231f20" text-anchor="middle">14</text>
<text x="1179.53" y="1049.84" font-size="13.6" fill="#231f20" text-anchor="middle">14</text>
<text x="99.65" y="1067.42" font-size="13.3" fill="#231f20" text-anchor="middle">KG</text>
<text x="170.53" y="1067.42" font-size="13.6" fill="#231f20" text-anchor="middle">9.5</text>
<text x="220.98" y="1067.42" font-size="13.6" fill="#231f20" text-anchor="middle">10.06</text>
<text x="271.43" y="1067.42" font-size="13.6" fill="#231f20" text-anchor="middle">10.62</text>
<text x="321.88" y="1067.42" font-size="13.6" fill="#231f20" text-anchor="middle">11.18</text>
<text x="372.33" y="1067.42" font-size="13.6" fill="#231f20" text-anchor="middle">11.74</text>
<text x="422.78" y="1067.42" font-size="13.6" fill="#231f20" text-anchor="middle">12.3</text>
<text x="473.23" y="1067.42" font-size="13.6" fill="#231f20" text-anchor="middle">12.86</text>
<text x="523.67" y="1067.42" font-size="13.6" fill="#231f20" text-anchor="middle">13.42</text>
<text x="574.12" y="1067.42" font-size="13.6" fill="#231f20" text-anchor="middle">13.98</text>
<text x="624.58" y="1067.42" font-size="13.6" fill="#231f20" text-anchor="middle">14.54</text>
<text x="675.03" y="1067.42" font-size="13.6" fill="#231f20" text-anchor="middle">15.1</text>
<text x="725.48" y="1067.42" font-size="13.6" fill="#231f20" text-anchor="middle">15.66</text>
<text x="775.92" y="1067.42" font-size="13.6" fill="#231f20" text-anchor="middle">16.22</text>
<text x="826.38" y="1067.42" font-size="13.6" fill="#231f20" text-anchor="middle">16.78</text>
<text x="876.83" y="1067.42" font-size="13.6" fill="#231f20" text-anchor="middle">17.34</text>
<text x="927.28" y="1067.42" font-size="13.6" fill="#231f20" text-anchor="middle">17.9</text>
<text x="977.73" y="1067.42" font-size="13.6" fill="#231f20" text-anchor="middle">18.46</text>
<text x="1028.17" y="1067.42" font-size="13.6" fill="#231f20" text-anchor="middle">19.02</text>
<text x="1078.62" y="1067.42" font-size="13.6" fill="#231f20" text-anchor="middle">19.58</text>
<text x="1129.08" y="1067.42" font-size="13.6" fill="#231f20" text-anchor="middle">20.14</text>
<text x="1179.53" y="1067.42" font-size="13.6" fill="#231f20" text-anchor="middle">20.7</text>
<rect x="54" y="1770.9" width="1150.75" height="44.8" fill="#4a9f8e"/>
<rect x="54" y="1815.7" width="91.3" height="87.9" fill="#cbe7df"/>
<line x1="54" y1="1770.9" x2="1204.75" y2="1770.9" stroke="#2b2b2b" stroke-width="1.2"/>
<line x1="54" y1="1815.7" x2="1204.75" y2="1815.7" stroke="#2b2b2b" stroke-width="1.15"/>
<line x1="54" y1="1833.28" x2="1204.75" y2="1833.28" stroke="#2b2b2b" stroke-width="1.15"/>
<line x1="54" y1="1850.86" x2="1204.75" y2="1850.86" stroke="#2b2b2b" stroke-width="1.15"/>
<line x1="54" y1="1868.44" x2="1204.75" y2="1868.44" stroke="#2b2b2b" stroke-width="1.15"/>
<line x1="54" y1="1886.02" x2="1204.75" y2="1886.02" stroke="#2b2b2b" stroke-width="1.15"/>
<line x1="54" y1="1903.6" x2="1204.75" y2="1903.6" stroke="#2b2b2b" stroke-width="1.15"/>
<line x1="145.3" y1="1770.9" x2="145.3" y2="1903.6" stroke="#2b2b2b" stroke-width="1.15"/>
<line x1="195.75" y1="1770.9" x2="195.75" y2="1903.6" stroke="#2b2b2b" stroke-width="1.15"/>
<line x1="246.2" y1="1770.9" x2="246.2" y2="1903.6" stroke="#2b2b2b" stroke-width="1.15"/>
<line x1="296.65" y1="1770.9" x2="296.65" y2="1903.6" stroke="#2b2b2b" stroke-width="1.15"/>
<line x1="347.1" y1="1770.9" x2="347.1" y2="1903.6" stroke="#2b2b2b" stroke-width="1.15"/>
<line x1="397.55" y1="1770.9" x2="397.55" y2="1903.6" stroke="#2b2b2b" stroke-width="1.15"/>
<line x1="448" y1="1770.9" x2="448" y2="1903.6" stroke="#2b2b2b" stroke-width="1.15"/>
<line x1="498.45" y1="1770.9" x2="498.45" y2="1903.6" stroke="#2b2b2b" stroke-width="1.15"/>
<line x1="548.9" y1="1770.9" x2="548.9" y2="1903.6" stroke="#2b2b2b" stroke-width="1.15"/>
<line x1="599.35" y1="1770.9" x2="599.35" y2="1903.6" stroke="#2b2b2b" stroke-width="1.15"/>
<line x1="649.8" y1="1770.9" x2="649.8" y2="1903.6" stroke="#2b2b2b" stroke-width="1.15"/>
<line x1="700.25" y1="1770.9" x2="700.25" y2="1903.6" stroke="#2b2b2b" stroke-width="1.15"/>
<line x1="750.7" y1="1770.9" x2="750.7" y2="1903.6" stroke="#2b2b2b" stroke-width="1.15"/>
<line x1="801.15" y1="1770.9" x2="801.15" y2="1903.6" stroke="#2b2b2b" stroke-width="1.15"/>
<line x1="851.6" y1="1770.9" x2="851.6" y2="1903.6" stroke="#2b2b2b" stroke-width="1.15"/>
<line x1="902.05" y1="1770.9" x2="902.05" y2="1903.6" stroke="#2b2b2b" stroke-width="1.15"/>
<line x1="952.5" y1="1770.9" x2="952.5" y2="1903.6" stroke="#2b2b2b" stroke-width="1.15"/>
<line x1="1002.95" y1="1770.9" x2="1002.95" y2="1903.6" stroke="#2b2b2b" stroke-width="1.15"/>
<line x1="1053.4" y1="1770.9" x2="1053.4" y2="1903.6" stroke="#2b2b2b" stroke-width="1.15"/>
<line x1="1103.85" y1="1770.9" x2="1103.85" y2="1903.6" stroke="#2b2b2b" stroke-width="1.15"/>
<line x1="1154.3" y1="1770.9" x2="1154.3" y2="1903.6" stroke="#2b2b2b" stroke-width="1.15"/>
<text x="99.65" y="1791.5" font-size="17" fill="#fff" text-anchor="middle">有效行程</text>
<text x="99.65" y="1809.2" font-size="15" fill="#fff" text-anchor="middle">stroke</text>
<text x="170.53" y="1799.2" font-size="14" fill="#fff" text-anchor="middle">50</text>
<text x="220.98" y="1799.2" font-size="14" fill="#fff" text-anchor="middle">100</text>
<text x="271.43" y="1799.2" font-size="14" fill="#fff" text-anchor="middle">150</text>
<text x="321.88" y="1799.2" font-size="14" fill="#fff" text-anchor="middle">200</text>
<text x="372.33" y="1799.2" font-size="14" fill="#fff" text-anchor="middle">250</text>
<text x="422.78" y="1799.2" font-size="14" fill="#fff" text-anchor="middle">300</text>
<text x="473.23" y="1799.2" font-size="14" fill="#fff" text-anchor="middle">350</text>
<text x="523.67" y="1799.2" font-size="14" fill="#fff" text-anchor="middle">400</text>
<text x="574.12" y="1799.2" font-size="14" fill="#fff" text-anchor="middle">450</text>
<text x="624.58" y="1799.2" font-size="14" fill="#fff" text-anchor="middle">500</text>
<text x="675.03" y="1799.2" font-size="14" fill="#fff" text-anchor="middle">550</text>
<text x="725.48" y="1799.2" font-size="14" fill="#fff" text-anchor="middle">600</text>
<text x="775.92" y="1799.2" font-size="14" fill="#fff" text-anchor="middle">650</text>
<text x="826.38" y="1799.2" font-size="14" fill="#fff" text-anchor="middle">700</text>
<text x="876.83" y="1799.2" font-size="14" fill="#fff" text-anchor="middle">750</text>
<text x="927.28" y="1799.2" font-size="14" fill="#fff" text-anchor="middle">800</text>
<text x="977.73" y="1799.2" font-size="14" fill="#fff" text-anchor="middle">850</text>
<text x="1028.17" y="1799.2" font-size="14" fill="#fff" text-anchor="middle">900</text>
<text x="1078.62" y="1799.2" font-size="14" fill="#fff" text-anchor="middle">950</text>
<text x="1129.08" y="1799.2" font-size="14" fill="#fff" text-anchor="middle">1000</text>
<text x="1179.53" y="1799.2" font-size="14" fill="#fff" text-anchor="middle">1050</text>
<text x="99.65" y="1830.7" font-size="13.3" fill="#231f20" text-anchor="middle">L</text>
<text x="170.53" y="1830.7" font-size="13.6" fill="#231f20" text-anchor="middle">300.5</text>
<text x="220.98" y="1830.7" font-size="13.6" fill="#231f20" text-anchor="middle">350.5</text>
<text x="271.43" y="1830.7" font-size="13.6" fill="#231f20" text-anchor="middle">400.5</text>
<text x="321.88" y="1830.7" font-size="13.6" fill="#231f20" text-anchor="middle">450.5</text>
<text x="372.33" y="1830.7" font-size="13.6" fill="#231f20" text-anchor="middle">500.5</text>
<text x="422.78" y="1830.7" font-size="13.6" fill="#231f20" text-anchor="middle">550.5</text>
<text x="473.23" y="1830.7" font-size="13.6" fill="#231f20" text-anchor="middle">600.5</text>
<text x="523.67" y="1830.7" font-size="13.6" fill="#231f20" text-anchor="middle">650.5</text>
<text x="574.12" y="1830.7" font-size="13.6" fill="#231f20" text-anchor="middle">700.5</text>
<text x="624.58" y="1830.7" font-size="13.6" fill="#231f20" text-anchor="middle">750.5</text>
<text x="675.03" y="1830.7" font-size="13.6" fill="#231f20" text-anchor="middle">800.5</text>
<text x="725.48" y="1830.7" font-size="13.6" fill="#231f20" text-anchor="middle">850.5</text>
<text x="775.92" y="1830.7" font-size="13.6" fill="#231f20" text-anchor="middle">900.5</text>
<text x="826.38" y="1830.7" font-size="13.6" fill="#231f20" text-anchor="middle">950.5</text>
<text x="876.83" y="1830.7" font-size="13.6" fill="#231f20" text-anchor="middle">1000.5</text>
<text x="927.28" y="1830.7" font-size="13.6" fill="#231f20" text-anchor="middle">1050.5</text>
<text x="977.73" y="1830.7" font-size="13.6" fill="#231f20" text-anchor="middle">1100.5</text>
<text x="1028.17" y="1830.7" font-size="13.6" fill="#231f20" text-anchor="middle">1150.5</text>
<text x="1078.62" y="1830.7" font-size="13.6" fill="#231f20" text-anchor="middle">1200.5</text>
<text x="1129.08" y="1830.7" font-size="13.6" fill="#231f20" text-anchor="middle">1250.5</text>
<text x="1179.53" y="1830.7" font-size="13.6" fill="#231f20" text-anchor="middle">1300.5</text>
<text x="99.65" y="1848.28" font-size="13.3" fill="#231f20" text-anchor="middle">A</text>
<text x="170.53" y="1848.28" font-size="13.6" fill="#231f20" text-anchor="middle">200</text>
<text x="220.98" y="1848.28" font-size="13.6" fill="#231f20" text-anchor="middle">50</text>
<text x="271.43" y="1848.28" font-size="13.6" fill="#231f20" text-anchor="middle">100</text>
<text x="321.88" y="1848.28" font-size="13.6" fill="#231f20" text-anchor="middle">150</text>
<text x="372.33" y="1848.28" font-size="13.6" fill="#231f20" text-anchor="middle">200</text>
<text x="422.78" y="1848.28" font-size="13.6" fill="#231f20" text-anchor="middle">50</text>
<text x="473.23" y="1848.28" font-size="13.6" fill="#231f20" text-anchor="middle">100</text>
<text x="523.67" y="1848.28" font-size="13.6" fill="#231f20" text-anchor="middle">150</text>
<text x="574.12" y="1848.28" font-size="13.6" fill="#231f20" text-anchor="middle">200</text>
<text x="624.58" y="1848.28" font-size="13.6" fill="#231f20" text-anchor="middle">50</text>
<text x="675.03" y="1848.28" font-size="13.6" fill="#231f20" text-anchor="middle">100</text>
<text x="725.48" y="1848.28" font-size="13.6" fill="#231f20" text-anchor="middle">150</text>
<text x="775.92" y="1848.28" font-size="13.6" fill="#231f20" text-anchor="middle">200</text>
<text x="826.38" y="1848.28" font-size="13.6" fill="#231f20" text-anchor="middle">50</text>
<text x="876.83" y="1848.28" font-size="13.6" fill="#231f20" text-anchor="middle">100</text>
<text x="927.28" y="1848.28" font-size="13.6" fill="#231f20" text-anchor="middle">150</text>
<text x="977.73" y="1848.28" font-size="13.6" fill="#231f20" text-anchor="middle">200</text>
<text x="1028.17" y="1848.28" font-size="13.6" fill="#231f20" text-anchor="middle">50</text>
<text x="1078.62" y="1848.28" font-size="13.6" fill="#231f20" text-anchor="middle">100</text>
<text x="1129.08" y="1848.28" font-size="13.6" fill="#231f20" text-anchor="middle">150</text>
<text x="1179.53" y="1848.28" font-size="13.6" fill="#231f20" text-anchor="middle">200</text>
<text x="99.65" y="1865.86" font-size="13.3" fill="#231f20" text-anchor="middle">M</text>
<text x="170.53" y="1865.86" font-size="13.6" fill="#231f20" text-anchor="middle">0</text>
<text x="220.98" y="1865.86" font-size="13.6" fill="#231f20" text-anchor="middle">1</text>
<text x="271.43" y="1865.86" font-size="13.6" fill="#231f20" text-anchor="middle">1</text>
<text x="321.88" y="1865.86" font-size="13.6" fill="#231f20" text-anchor="middle">1</text>
<text x="372.33" y="1865.86" font-size="13.6" fill="#231f20" text-anchor="middle">1</text>
<text x="422.78" y="1865.86" font-size="13.6" fill="#231f20" text-anchor="middle">2</text>
<text x="473.23" y="1865.86" font-size="13.6" fill="#231f20" text-anchor="middle">2</text>
<text x="523.67" y="1865.86" font-size="13.6" fill="#231f20" text-anchor="middle">2</text>
<text x="574.12" y="1865.86" font-size="13.6" fill="#231f20" text-anchor="middle">2</text>
<text x="624.58" y="1865.86" font-size="13.6" fill="#231f20" text-anchor="middle">3</text>
<text x="675.03" y="1865.86" font-size="13.6" fill="#231f20" text-anchor="middle">3</text>
<text x="725.48" y="1865.86" font-size="13.6" fill="#231f20" text-anchor="middle">3</text>
<text x="775.92" y="1865.86" font-size="13.6" fill="#231f20" text-anchor="middle">3</text>
<text x="826.38" y="1865.86" font-size="13.6" fill="#231f20" text-anchor="middle">4</text>
<text x="876.83" y="1865.86" font-size="13.6" fill="#231f20" text-anchor="middle">4</text>
<text x="927.28" y="1865.86" font-size="13.6" fill="#231f20" text-anchor="middle">4</text>
<text x="977.73" y="1865.86" font-size="13.6" fill="#231f20" text-anchor="middle">4</text>
<text x="1028.17" y="1865.86" font-size="13.6" fill="#231f20" text-anchor="middle">5</text>
<text x="1078.62" y="1865.86" font-size="13.6" fill="#231f20" text-anchor="middle">5</text>
<text x="1129.08" y="1865.86" font-size="13.6" fill="#231f20" text-anchor="middle">5</text>
<text x="1179.53" y="1865.86" font-size="13.6" fill="#231f20" text-anchor="middle">5</text>
<text x="99.65" y="1883.44" font-size="13.3" fill="#231f20" text-anchor="middle">N</text>
<text x="170.53" y="1883.44" font-size="13.6" fill="#231f20" text-anchor="middle">4</text>
<text x="220.98" y="1883.44" font-size="13.6" fill="#231f20" text-anchor="middle">6</text>
<text x="271.43" y="1883.44" font-size="13.6" fill="#231f20" text-anchor="middle">6</text>
<text x="321.88" y="1883.44" font-size="13.6" fill="#231f20" text-anchor="middle">6</text>
<text x="372.33" y="1883.44" font-size="13.6" fill="#231f20" text-anchor="middle">6</text>
<text x="422.78" y="1883.44" font-size="13.6" fill="#231f20" text-anchor="middle">8</text>
<text x="473.23" y="1883.44" font-size="13.6" fill="#231f20" text-anchor="middle">8</text>
<text x="523.67" y="1883.44" font-size="13.6" fill="#231f20" text-anchor="middle">8</text>
<text x="574.12" y="1883.44" font-size="13.6" fill="#231f20" text-anchor="middle">8</text>
<text x="624.58" y="1883.44" font-size="13.6" fill="#231f20" text-anchor="middle">10</text>
<text x="675.03" y="1883.44" font-size="13.6" fill="#231f20" text-anchor="middle">10</text>
<text x="725.48" y="1883.44" font-size="13.6" fill="#231f20" text-anchor="middle">10</text>
<text x="775.92" y="1883.44" font-size="13.6" fill="#231f20" text-anchor="middle">10</text>
<text x="826.38" y="1883.44" font-size="13.6" fill="#231f20" text-anchor="middle">12</text>
<text x="876.83" y="1883.44" font-size="13.6" fill="#231f20" text-anchor="middle">12</text>
<text x="927.28" y="1883.44" font-size="13.6" fill="#231f20" text-anchor="middle">12</text>
<text x="977.73" y="1883.44" font-size="13.6" fill="#231f20" text-anchor="middle">12</text>
<text x="1028.17" y="1883.44" font-size="13.6" fill="#231f20" text-anchor="middle">14</text>
<text x="1078.62" y="1883.44" font-size="13.6" fill="#231f20" text-anchor="middle">14</text>
<text x="1129.08" y="1883.44" font-size="13.6" fill="#231f20" text-anchor="middle">14</text>
<text x="1179.53" y="1883.44" font-size="13.6" fill="#231f20" text-anchor="middle">14</text>
<text x="99.65" y="1901.02" font-size="13.3" fill="#231f20" text-anchor="middle">KG</text>
<text x="170.53" y="1901.02" font-size="13.6" fill="#231f20" text-anchor="middle">8.75</text>
<text x="220.98" y="1901.02" font-size="13.6" fill="#231f20" text-anchor="middle">9.3</text>
<text x="271.43" y="1901.02" font-size="13.6" fill="#231f20" text-anchor="middle">9.85</text>
<text x="321.88" y="1901.02" font-size="13.6" fill="#231f20" text-anchor="middle">10.4</text>
<text x="372.33" y="1901.02" font-size="13.6" fill="#231f20" text-anchor="middle">10.95</text>
<text x="422.78" y="1901.02" font-size="13.6" fill="#231f20" text-anchor="middle">11.5</text>
<text x="473.23" y="1901.02" font-size="13.6" fill="#231f20" text-anchor="middle">12.05</text>
<text x="523.67" y="1901.02" font-size="13.6" fill="#231f20" text-anchor="middle">12.6</text>
<text x="574.12" y="1901.02" font-size="13.6" fill="#231f20" text-anchor="middle">13.15</text>
<text x="624.58" y="1901.02" font-size="13.6" fill="#231f20" text-anchor="middle">13.7</text>
<text x="675.03" y="1901.02" font-size="13.6" fill="#231f20" text-anchor="middle">14.25</text>
<text x="725.48" y="1901.02" font-size="13.6" fill="#231f20" text-anchor="middle">14.8</text>
<text x="775.92" y="1901.02" font-size="13.6" fill="#231f20" text-anchor="middle">15.35</text>
<text x="826.38" y="1901.02" font-size="13.6" fill="#231f20" text-anchor="middle">15.9</text>
<text x="876.83" y="1901.02" font-size="13.6" fill="#231f20" text-anchor="middle">16.45</text>
<text x="927.28" y="1901.02" font-size="13.6" fill="#231f20" text-anchor="middle">17</text>
<text x="977.73" y="1901.02" font-size="13.6" fill="#231f20" text-anchor="middle">17.55</text>
<text x="1028.17" y="1901.02" font-size="13.6" fill="#231f20" text-anchor="middle">18.1</text>
<text x="1078.62" y="1901.02" font-size="13.6" fill="#231f20" text-anchor="middle">18.65</text>
<text x="1129.08" y="1901.02" font-size="13.6" fill="#231f20" text-anchor="middle">19.2</text>
<text x="1179.53" y="1901.02" font-size="13.6" fill="#231f20" text-anchor="middle">19.75</text>
</g>
</svg>
</body></html>
